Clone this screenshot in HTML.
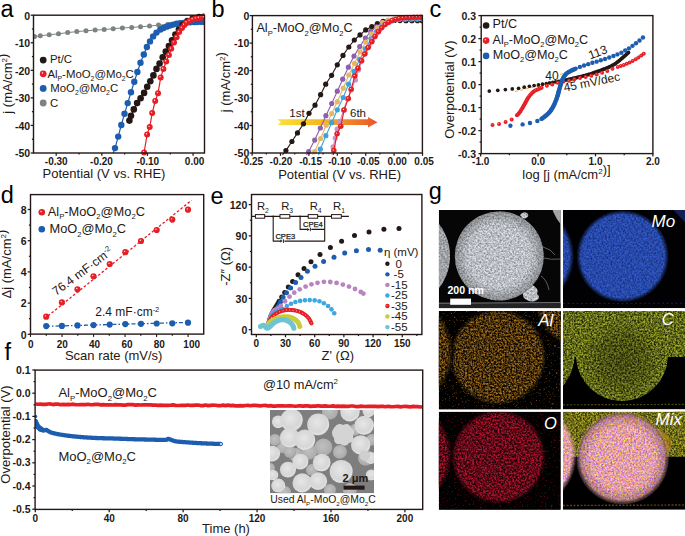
<!DOCTYPE html>
<html><head><meta charset="utf-8"><style>
html,body{margin:0;padding:0;background:#fff;}
body{width:685px;height:536px;overflow:hidden;}
svg{display:block;font-family:"Liberation Sans", sans-serif;}
</style></head><body>
<svg width="685" height="536" viewBox="0 0 685 536">
<g>
<clipPath id="cp1"><rect x="33.5" y="11.2" width="171" height="145.8"/></clipPath><g clip-path="url(#cp1)">
<polyline points="34.5,36.6 40.3,35.8 49.2,34.8 58.5,33.8 67.7,32.6 76.8,31.6 86,30.8 95.1,30.1 104.2,29.6 113.2,28.7 122.4,27.9 131.7,27.5 140.5,26.7 149.5,26.1 158.5,25.1 167.6,24.4 176.7,23.8 185.8,23.2 194.9,22.8 203.5,22.4" fill="none" stroke="#7d8383" stroke-width="1" stroke-linejoin="round"/>
<circle cx="34.5" cy="36.6" r="2.5" fill="#7d8383"/>
<circle cx="40.3" cy="35.8" r="2.5" fill="#7d8383"/>
<circle cx="49.2" cy="34.8" r="2.5" fill="#7d8383"/>
<circle cx="58.5" cy="33.8" r="2.5" fill="#7d8383"/>
<circle cx="67.7" cy="32.6" r="2.5" fill="#7d8383"/>
<circle cx="76.8" cy="31.6" r="2.5" fill="#7d8383"/>
<circle cx="86" cy="30.8" r="2.5" fill="#7d8383"/>
<circle cx="95.1" cy="30.1" r="2.5" fill="#7d8383"/>
<circle cx="104.2" cy="29.6" r="2.5" fill="#7d8383"/>
<circle cx="113.2" cy="28.7" r="2.5" fill="#7d8383"/>
<circle cx="122.4" cy="27.9" r="2.5" fill="#7d8383"/>
<circle cx="131.7" cy="27.5" r="2.5" fill="#7d8383"/>
<circle cx="140.5" cy="26.7" r="2.5" fill="#7d8383"/>
<circle cx="149.5" cy="26.1" r="2.5" fill="#7d8383"/>
<circle cx="158.5" cy="25.1" r="2.5" fill="#7d8383"/>
<circle cx="167.6" cy="24.4" r="2.5" fill="#7d8383"/>
<circle cx="176.7" cy="23.8" r="2.5" fill="#7d8383"/>
<circle cx="185.8" cy="23.2" r="2.5" fill="#7d8383"/>
<circle cx="194.9" cy="22.8" r="2.5" fill="#7d8383"/>
<circle cx="203.5" cy="22.4" r="2.5" fill="#7d8383"/>
<polyline points="113.3,153 115,148.1 118.2,136.6 121.3,125 124.5,113.8 127.7,103.1 131,92.3 134.3,81.7 137.4,72 140.5,62.7 143.8,54.5 146.9,47 150,41.4 153.1,36.4 156.5,32.6 160.4,29.5 165,27.2 171.2,25.1 177.4,23.6 186.7,22.5 196,22 204,21.7" fill="none" stroke="#1d5db0" stroke-width="1.2" stroke-linejoin="round"/>
<circle cx="115" cy="148.1" r="3.2" fill="#1d5db0"/>
<circle cx="118.2" cy="136.6" r="3.2" fill="#1d5db0"/>
<circle cx="121.3" cy="125" r="3.2" fill="#1d5db0"/>
<circle cx="124.5" cy="113.8" r="3.2" fill="#1d5db0"/>
<circle cx="127.7" cy="103.1" r="3.2" fill="#1d5db0"/>
<circle cx="131" cy="92.3" r="3.2" fill="#1d5db0"/>
<circle cx="134.3" cy="81.7" r="3.2" fill="#1d5db0"/>
<circle cx="137.4" cy="72" r="3.2" fill="#1d5db0"/>
<circle cx="140.5" cy="62.7" r="3.2" fill="#1d5db0"/>
<circle cx="143.8" cy="54.5" r="3.2" fill="#1d5db0"/>
<circle cx="146.9" cy="47" r="3.2" fill="#1d5db0"/>
<circle cx="150" cy="41.4" r="3.2" fill="#1d5db0"/>
<circle cx="153.1" cy="36.4" r="3.2" fill="#1d5db0"/>
<circle cx="156.5" cy="32.6" r="3.2" fill="#1d5db0"/>
<circle cx="160.4" cy="29.5" r="3.2" fill="#1d5db0"/>
<circle cx="163.48" cy="27.96" r="3.2" fill="#1d5db0"/>
<circle cx="166.65" cy="26.64" r="3.2" fill="#1d5db0"/>
<circle cx="169.91" cy="25.54" r="3.2" fill="#1d5db0"/>
<circle cx="173.22" cy="24.61" r="3.2" fill="#1d5db0"/>
<circle cx="176.57" cy="23.8" r="3.2" fill="#1d5db0"/>
<circle cx="179.97" cy="23.3" r="3.2" fill="#1d5db0"/>
<circle cx="183.39" cy="22.89" r="3.2" fill="#1d5db0"/>
<circle cx="186.81" cy="22.49" r="3.2" fill="#1d5db0"/>
<circle cx="190.24" cy="22.31" r="3.2" fill="#1d5db0"/>
<circle cx="193.68" cy="22.12" r="3.2" fill="#1d5db0"/>
<circle cx="197.12" cy="21.96" r="3.2" fill="#1d5db0"/>
<circle cx="200.56" cy="21.83" r="3.2" fill="#1d5db0"/>
<circle cx="204" cy="21.7" r="3.2" fill="#1d5db0"/>
<polyline points="129.4,120.6 131,115.7 133.8,109.4 137.1,103.1 140.6,98.2 144.1,92.9 147.2,86.7 150.3,81.3 153.4,75.4 156.5,68.9 159.6,63.5 162.7,57.3 165.8,51.6 168.9,46 172,40.3 175.4,34.6 178.9,29.5 182.8,24.8 187.4,21 192.8,18.3 199,17.1 203.7,16.8" fill="none" stroke="#231815" stroke-width="1.2" stroke-linejoin="round"/>
<circle cx="129.4" cy="120.6" r="3.3" fill="#231815"/>
<circle cx="131" cy="115.7" r="3.3" fill="#231815"/>
<circle cx="133.8" cy="109.4" r="3.3" fill="#231815"/>
<circle cx="137.1" cy="103.1" r="3.3" fill="#231815"/>
<circle cx="140.6" cy="98.2" r="3.3" fill="#231815"/>
<circle cx="144.1" cy="92.9" r="3.3" fill="#231815"/>
<circle cx="147.2" cy="86.7" r="3.3" fill="#231815"/>
<circle cx="150.3" cy="81.3" r="3.3" fill="#231815"/>
<circle cx="153.4" cy="75.4" r="3.3" fill="#231815"/>
<circle cx="156.5" cy="68.9" r="3.3" fill="#231815"/>
<circle cx="159.6" cy="63.5" r="3.3" fill="#231815"/>
<circle cx="162.7" cy="57.3" r="3.3" fill="#231815"/>
<circle cx="165.8" cy="51.6" r="3.3" fill="#231815"/>
<circle cx="168.9" cy="46" r="3.3" fill="#231815"/>
<circle cx="172" cy="40.3" r="3.3" fill="#231815"/>
<circle cx="175.4" cy="34.6" r="3.3" fill="#231815"/>
<circle cx="178.9" cy="29.5" r="3.3" fill="#231815"/>
<circle cx="182.8" cy="24.8" r="3.3" fill="#231815"/>
<circle cx="187.4" cy="21" r="3.3" fill="#231815"/>
<circle cx="192.8" cy="18.3" r="3.3" fill="#231815"/>
<circle cx="199" cy="17.1" r="3.3" fill="#231815"/>
<circle cx="203.7" cy="16.8" r="3.3" fill="#231815"/>
<polyline points="143.8,153.5 144.1,152.4 147.1,134.5 149.7,127.1 152.2,113.1 155.2,101 158,93.3 160.7,77.4 163.4,69 166.2,61.5 168.9,55 171.2,48.8 174,42.6 176.6,37.2 179.2,32.1 182,27.9 184.3,25 186.7,22.5 189.7,20.8 192.8,19.4 195.9,18.6 199,17.9 202,17.5 204,17.4" fill="none" stroke="#e61f26" stroke-width="1.2" stroke-linejoin="round"/>
<circle cx="144.1" cy="152.4" r="3" fill="#e61f26"/>
<circle cx="143.44" cy="151.65" r="0.66" fill="#fff0f0"/>
<circle cx="147.1" cy="134.5" r="3" fill="#e61f26"/>
<circle cx="146.44" cy="133.75" r="0.66" fill="#fff0f0"/>
<circle cx="149.7" cy="127.1" r="3" fill="#e61f26"/>
<circle cx="149.04" cy="126.35" r="0.66" fill="#fff0f0"/>
<circle cx="152.2" cy="113.1" r="3" fill="#e61f26"/>
<circle cx="151.54" cy="112.35" r="0.66" fill="#fff0f0"/>
<circle cx="155.2" cy="101" r="3" fill="#e61f26"/>
<circle cx="154.54" cy="100.25" r="0.66" fill="#fff0f0"/>
<circle cx="158" cy="93.3" r="3" fill="#e61f26"/>
<circle cx="157.34" cy="92.55" r="0.66" fill="#fff0f0"/>
<circle cx="160.7" cy="77.4" r="3" fill="#e61f26"/>
<circle cx="160.04" cy="76.65" r="0.66" fill="#fff0f0"/>
<circle cx="163.4" cy="69" r="3" fill="#e61f26"/>
<circle cx="162.74" cy="68.25" r="0.66" fill="#fff0f0"/>
<circle cx="166.2" cy="61.5" r="3" fill="#e61f26"/>
<circle cx="165.54" cy="60.75" r="0.66" fill="#fff0f0"/>
<circle cx="168.9" cy="55" r="3" fill="#e61f26"/>
<circle cx="168.24" cy="54.25" r="0.66" fill="#fff0f0"/>
<circle cx="171.2" cy="48.8" r="3" fill="#e61f26"/>
<circle cx="170.54" cy="48.05" r="0.66" fill="#fff0f0"/>
<circle cx="174" cy="42.6" r="3" fill="#e61f26"/>
<circle cx="173.34" cy="41.85" r="0.66" fill="#fff0f0"/>
<circle cx="176.6" cy="37.2" r="3" fill="#e61f26"/>
<circle cx="175.94" cy="36.45" r="0.66" fill="#fff0f0"/>
<circle cx="179.2" cy="32.1" r="3" fill="#e61f26"/>
<circle cx="178.54" cy="31.35" r="0.66" fill="#fff0f0"/>
<circle cx="182" cy="27.9" r="3" fill="#e61f26"/>
<circle cx="181.34" cy="27.15" r="0.66" fill="#fff0f0"/>
<circle cx="184.3" cy="25" r="3" fill="#e61f26"/>
<circle cx="183.64" cy="24.25" r="0.66" fill="#fff0f0"/>
<circle cx="186.7" cy="22.5" r="3" fill="#e61f26"/>
<circle cx="186.04" cy="21.75" r="0.66" fill="#fff0f0"/>
<circle cx="189.7" cy="20.8" r="3" fill="#e61f26"/>
<circle cx="189.04" cy="20.05" r="0.66" fill="#fff0f0"/>
<circle cx="192.8" cy="19.4" r="3" fill="#e61f26"/>
<circle cx="192.14" cy="18.65" r="0.66" fill="#fff0f0"/>
<circle cx="195.9" cy="18.6" r="3" fill="#e61f26"/>
<circle cx="195.24" cy="17.85" r="0.66" fill="#fff0f0"/>
<circle cx="199" cy="17.9" r="3" fill="#e61f26"/>
<circle cx="198.34" cy="17.15" r="0.66" fill="#fff0f0"/>
<circle cx="202" cy="17.5" r="3" fill="#e61f26"/>
<circle cx="201.34" cy="16.75" r="0.66" fill="#fff0f0"/>
<circle cx="204" cy="17.4" r="3" fill="#e61f26"/>
<circle cx="203.34" cy="16.65" r="0.66" fill="#fff0f0"/>
</g>
<rect x="33.5" y="15.2" width="171" height="137.8" fill="none" stroke="#231815" stroke-width="1.4"/>
<line x1="33.5" y1="15.2" x2="30.7" y2="15.2" stroke="#231815" stroke-width="1.25"/>
<text x="30.2" y="19.5" font-size="10.5" font-weight="bold" text-anchor="end" fill="#231815">0</text>
<line x1="33.5" y1="42.76" x2="30.7" y2="42.76" stroke="#231815" stroke-width="1.25"/>
<text x="30.2" y="47.06" font-size="10.5" font-weight="bold" text-anchor="end" fill="#231815">-10</text>
<line x1="33.5" y1="70.32" x2="30.7" y2="70.32" stroke="#231815" stroke-width="1.25"/>
<text x="30.2" y="74.62" font-size="10.5" font-weight="bold" text-anchor="end" fill="#231815">-20</text>
<line x1="33.5" y1="97.88" x2="30.7" y2="97.88" stroke="#231815" stroke-width="1.25"/>
<text x="30.2" y="102.18" font-size="10.5" font-weight="bold" text-anchor="end" fill="#231815">-30</text>
<line x1="33.5" y1="125.44" x2="30.7" y2="125.44" stroke="#231815" stroke-width="1.25"/>
<text x="30.2" y="129.74" font-size="10.5" font-weight="bold" text-anchor="end" fill="#231815">-40</text>
<line x1="33.5" y1="153" x2="30.7" y2="153" stroke="#231815" stroke-width="1.25"/>
<text x="30.2" y="157.3" font-size="10.5" font-weight="bold" text-anchor="end" fill="#231815">-50</text>
<line x1="33.5" y1="28.98" x2="31.9" y2="28.98" stroke="#231815" stroke-width="1.25"/>
<line x1="33.5" y1="56.54" x2="31.9" y2="56.54" stroke="#231815" stroke-width="1.25"/>
<line x1="33.5" y1="84.1" x2="31.9" y2="84.1" stroke="#231815" stroke-width="1.25"/>
<line x1="33.5" y1="111.66" x2="31.9" y2="111.66" stroke="#231815" stroke-width="1.25"/>
<line x1="33.5" y1="139.22" x2="31.9" y2="139.22" stroke="#231815" stroke-width="1.25"/>
<line x1="56.2" y1="153" x2="56.2" y2="155.8" stroke="#231815" stroke-width="1.25"/>
<line x1="101.82" y1="153" x2="101.82" y2="155.8" stroke="#231815" stroke-width="1.25"/>
<line x1="147.44" y1="153" x2="147.44" y2="155.8" stroke="#231815" stroke-width="1.25"/>
<line x1="193.06" y1="153" x2="193.06" y2="155.8" stroke="#231815" stroke-width="1.25"/>
<text x="56.2" y="165" font-size="10" font-weight="bold" text-anchor="middle" fill="#231815">-0.30</text>
<text x="101.5" y="165" font-size="10" font-weight="bold" text-anchor="middle" fill="#231815">-0.20</text>
<text x="147.8" y="165" font-size="10" font-weight="bold" text-anchor="middle" fill="#231815">-0.10</text>
<text x="194.6" y="165" font-size="10" font-weight="bold" text-anchor="middle" fill="#231815">0.00</text>
<line x1="79.01" y1="153" x2="79.01" y2="154.6" stroke="#231815" stroke-width="1.25"/>
<line x1="124.63" y1="153" x2="124.63" y2="154.6" stroke="#231815" stroke-width="1.25"/>
<line x1="170.25" y1="153" x2="170.25" y2="154.6" stroke="#231815" stroke-width="1.25"/>
<circle cx="43.2" cy="60.1" r="3.4" fill="#231815"/>
<circle cx="43.2" cy="73.8" r="3.4" fill="#e61f26"/>
<circle cx="42.45" cy="72.95" r="0.75" fill="#fff0f0"/>
<circle cx="43.2" cy="88.4" r="3.4" fill="#1d5db0"/>
<circle cx="43.2" cy="103" r="3.4" fill="#7d8383"/>
<text x="49.9" y="63.1" font-size="11.4" text-anchor="start" fill="#231815">Pt/C</text>
<text x="47.4" y="77.5" font-size="11.4" text-anchor="start" fill="#231815">Al<tspan dy="3.31" font-size="6.84">P</tspan><tspan dy="-3.31">-MoO<tspan dy="3.31" font-size="6.84">2</tspan><tspan dy="-3.31">@Mo<tspan dy="3.31" font-size="6.84">2</tspan><tspan dy="-3.31">C</tspan></tspan></tspan></text>
<text x="50.2" y="92" font-size="11.4" text-anchor="start" fill="#231815">MoO<tspan dy="3.31" font-size="6.84">2</tspan><tspan dy="-3.31">@Mo<tspan dy="3.31" font-size="6.84">2</tspan><tspan dy="-3.31">C</tspan></tspan></text>
<text x="49.9" y="106.5" font-size="11.4" text-anchor="start" fill="#231815">C</text>
<text x="104" y="177.7" font-size="13" text-anchor="middle" fill="#231815">Potential (V vs. RHE)</text>
<text x="11.6" y="83.6" font-size="13" text-anchor="middle" fill="#231815" transform="rotate(-90 11.6 83.6)">j (mA/cm<tspan dy="-4.94" font-size="8.06">2</tspan><tspan dy="4.94"></tspan>)</text>
<text x="0.5" y="16.7" font-size="23.5" text-anchor="start" fill="#000">a</text>
</g>
<defs><linearGradient id="arr" x1="0" x2="1" y1="0" y2="0"><stop offset="0" stop-color="#fbe23a"/><stop offset="0.45" stop-color="#f4b51f"/><stop offset="1" stop-color="#e8552c"/></linearGradient></defs>
<path d="M277.5,119.3 L368,119.3 L368,117 L377.5,122.2 L368,127.4 L368,125.1 L277.5,125.1 L281,122.2 Z" fill="url(#arr)"/>
<text x="289.3" y="117" font-size="11.5" text-anchor="start" fill="#231815">1st</text>
<text x="350" y="117" font-size="11.5" text-anchor="start" fill="#231815">6th</text>
<clipPath id="cp2"><rect x="252.4" y="11.6" width="170" height="145.4"/></clipPath><g clip-path="url(#cp2)">
<polyline points="282.5,155 285.9,150.6 291.9,141.5 297.5,132.9 303.5,123.8 309,113.3 315,105.2 320.6,94.7 325.7,84.2 331.6,75.3 337.3,64.8 343,55.4 348.8,47 354.3,40 360,34.9 365.7,29.9 371.8,26.5 377.4,23.6 383.1,21.4 388.8,20.6 394.5,20.5 400,20.6 406,20.7 411.9,20.7 417.5,20.7 422.3,20.7" fill="none" stroke="#231815" stroke-width="1.1" stroke-linejoin="round"/>
<circle cx="285.9" cy="150.6" r="2.6" fill="#231815"/>
<circle cx="291.9" cy="141.5" r="2.6" fill="#231815"/>
<circle cx="297.5" cy="132.9" r="2.6" fill="#231815"/>
<circle cx="303.5" cy="123.8" r="2.6" fill="#231815"/>
<circle cx="309" cy="113.3" r="2.6" fill="#231815"/>
<circle cx="315" cy="105.2" r="2.6" fill="#231815"/>
<circle cx="320.6" cy="94.7" r="2.6" fill="#231815"/>
<circle cx="325.7" cy="84.2" r="2.6" fill="#231815"/>
<circle cx="331.6" cy="75.3" r="2.6" fill="#231815"/>
<circle cx="337.3" cy="64.8" r="2.6" fill="#231815"/>
<circle cx="343" cy="55.4" r="2.6" fill="#231815"/>
<circle cx="348.8" cy="47" r="2.6" fill="#231815"/>
<circle cx="354.3" cy="40" r="2.6" fill="#231815"/>
<circle cx="360" cy="34.9" r="2.6" fill="#231815"/>
<circle cx="365.7" cy="29.9" r="2.6" fill="#231815"/>
<circle cx="371.8" cy="26.5" r="2.6" fill="#231815"/>
<circle cx="377.4" cy="23.6" r="2.6" fill="#231815"/>
<circle cx="383.1" cy="21.4" r="2.6" fill="#231815"/>
<circle cx="388.8" cy="20.6" r="2.6" fill="#231815"/>
<circle cx="394.5" cy="20.5" r="2.6" fill="#231815"/>
<circle cx="400" cy="20.6" r="2.6" fill="#231815"/>
<circle cx="406" cy="20.7" r="2.6" fill="#231815"/>
<circle cx="411.9" cy="20.7" r="2.6" fill="#231815"/>
<circle cx="417.5" cy="20.7" r="2.6" fill="#231815"/>
<circle cx="422.3" cy="20.7" r="2.6" fill="#231815"/>
<polyline points="306.5,155 308.7,151.6 314.7,140.1 320.3,128 325.9,115.7 331.7,103.5 337.3,91.2 342.7,79.2 348.4,67.2 354,56.1 359.7,46.6 365.4,38.1 370.8,31.4 376.5,26.8 382.1,22.8 387.8,20.6 393.5,19.5 399,19.2 405,19.1 411,19.1 417,19.1 422.5,19.1" fill="none" stroke="#8f5fae" stroke-width="1.1" stroke-linejoin="round"/>
<circle cx="308.7" cy="151.6" r="2.6" fill="#8f5fae"/>
<circle cx="314.7" cy="140.1" r="2.6" fill="#8f5fae"/>
<circle cx="320.3" cy="128" r="2.6" fill="#8f5fae"/>
<circle cx="325.9" cy="115.7" r="2.6" fill="#8f5fae"/>
<circle cx="331.7" cy="103.5" r="2.6" fill="#8f5fae"/>
<circle cx="337.3" cy="91.2" r="2.6" fill="#8f5fae"/>
<circle cx="342.7" cy="79.2" r="2.6" fill="#8f5fae"/>
<circle cx="348.4" cy="67.2" r="2.6" fill="#8f5fae"/>
<circle cx="354" cy="56.1" r="2.6" fill="#8f5fae"/>
<circle cx="359.7" cy="46.6" r="2.6" fill="#8f5fae"/>
<circle cx="365.4" cy="38.1" r="2.6" fill="#8f5fae"/>
<circle cx="370.8" cy="31.4" r="2.6" fill="#8f5fae"/>
<circle cx="376.5" cy="26.8" r="2.6" fill="#8f5fae"/>
<circle cx="382.1" cy="22.8" r="2.6" fill="#8f5fae"/>
<circle cx="387.8" cy="20.6" r="2.6" fill="#8f5fae"/>
<circle cx="393.5" cy="19.5" r="2.6" fill="#8f5fae"/>
<circle cx="399" cy="19.2" r="2.6" fill="#8f5fae"/>
<circle cx="405" cy="19.1" r="2.6" fill="#8f5fae"/>
<circle cx="411" cy="19.1" r="2.6" fill="#8f5fae"/>
<circle cx="417" cy="19.1" r="2.6" fill="#8f5fae"/>
<circle cx="422.5" cy="19.1" r="2.6" fill="#8f5fae"/>
<polyline points="312.5,155 314.7,151.6 320.6,138.5 326.2,125.2 331.7,113.6 337.3,101.7 343.2,88.2 348.8,75 354.5,63.4 360.1,52 365.8,42.1 371.5,33.9 377.2,27.5 382.8,22.5 388.5,20.2 394,19.2 400,18.8 406,18.7 412,18.7 418,18.7 422.5,18.7" fill="none" stroke="#e2b863" stroke-width="1.1" stroke-linejoin="round"/>
<circle cx="314.7" cy="151.6" r="2.6" fill="#e2b863"/>
<circle cx="320.6" cy="138.5" r="2.6" fill="#e2b863"/>
<circle cx="326.2" cy="125.2" r="2.6" fill="#e2b863"/>
<circle cx="331.7" cy="113.6" r="2.6" fill="#e2b863"/>
<circle cx="337.3" cy="101.7" r="2.6" fill="#e2b863"/>
<circle cx="343.2" cy="88.2" r="2.6" fill="#e2b863"/>
<circle cx="348.8" cy="75" r="2.6" fill="#e2b863"/>
<circle cx="354.5" cy="63.4" r="2.6" fill="#e2b863"/>
<circle cx="360.1" cy="52" r="2.6" fill="#e2b863"/>
<circle cx="365.8" cy="42.1" r="2.6" fill="#e2b863"/>
<circle cx="371.5" cy="33.9" r="2.6" fill="#e2b863"/>
<circle cx="377.2" cy="27.5" r="2.6" fill="#e2b863"/>
<circle cx="382.8" cy="22.5" r="2.6" fill="#e2b863"/>
<circle cx="388.5" cy="20.2" r="2.6" fill="#e2b863"/>
<circle cx="394" cy="19.2" r="2.6" fill="#e2b863"/>
<circle cx="400" cy="18.8" r="2.6" fill="#e2b863"/>
<circle cx="406" cy="18.7" r="2.6" fill="#e2b863"/>
<circle cx="412" cy="18.7" r="2.6" fill="#e2b863"/>
<circle cx="418" cy="18.7" r="2.6" fill="#e2b863"/>
<circle cx="422.5" cy="18.7" r="2.6" fill="#e2b863"/>
<polyline points="318.5,155 320.3,149.2 325.9,135.7 331.7,122.7 337.3,109.8 343.2,97.5 348.6,84.2 354,71.4 359.7,59.4 365.4,48.8 371.1,38.8 376.7,31.7 382.4,26 388,22.3 393.6,20.3 399.2,19.3 405,18.9 411,18.8 417,18.8 422.5,18.8" fill="none" stroke="#3aa3de" stroke-width="1.1" stroke-linejoin="round"/>
<circle cx="320.3" cy="149.2" r="2.6" fill="#3aa3de"/>
<circle cx="325.9" cy="135.7" r="2.6" fill="#3aa3de"/>
<circle cx="331.7" cy="122.7" r="2.6" fill="#3aa3de"/>
<circle cx="337.3" cy="109.8" r="2.6" fill="#3aa3de"/>
<circle cx="343.2" cy="97.5" r="2.6" fill="#3aa3de"/>
<circle cx="348.6" cy="84.2" r="2.6" fill="#3aa3de"/>
<circle cx="354" cy="71.4" r="2.6" fill="#3aa3de"/>
<circle cx="359.7" cy="59.4" r="2.6" fill="#3aa3de"/>
<circle cx="365.4" cy="48.8" r="2.6" fill="#3aa3de"/>
<circle cx="371.1" cy="38.8" r="2.6" fill="#3aa3de"/>
<circle cx="376.7" cy="31.7" r="2.6" fill="#3aa3de"/>
<circle cx="382.4" cy="26" r="2.6" fill="#3aa3de"/>
<circle cx="388" cy="22.3" r="2.6" fill="#3aa3de"/>
<circle cx="393.6" cy="20.3" r="2.6" fill="#3aa3de"/>
<circle cx="399.2" cy="19.3" r="2.6" fill="#3aa3de"/>
<circle cx="405" cy="18.9" r="2.6" fill="#3aa3de"/>
<circle cx="411" cy="18.8" r="2.6" fill="#3aa3de"/>
<circle cx="417" cy="18.8" r="2.6" fill="#3aa3de"/>
<circle cx="422.5" cy="18.8" r="2.6" fill="#3aa3de"/>
<polyline points="332,155 333.1,146.9 335.2,138 337.1,129 340.1,121.3 343.5,110 347.5,99 351,90 355.5,80 358.5,70 362,61 365.5,53 369,46 372.5,40 376,34.5 379.5,30 383,26 387,23 391,21 395.5,19.5 400,18.5 406,18 412,17.8 418,17.7 422.5,17.7" fill="none" stroke="#c993c9" stroke-width="1.1" stroke-linejoin="round"/>
<circle cx="333.1" cy="146.9" r="2.6" fill="#c993c9"/>
<circle cx="335.2" cy="138" r="2.6" fill="#c993c9"/>
<circle cx="337.1" cy="129" r="2.6" fill="#c993c9"/>
<circle cx="340.1" cy="121.3" r="2.6" fill="#c993c9"/>
<circle cx="343.5" cy="110" r="2.6" fill="#c993c9"/>
<circle cx="347.5" cy="99" r="2.6" fill="#c993c9"/>
<circle cx="351" cy="90" r="2.6" fill="#c993c9"/>
<circle cx="355.5" cy="80" r="2.6" fill="#c993c9"/>
<circle cx="358.5" cy="70" r="2.6" fill="#c993c9"/>
<circle cx="362" cy="61" r="2.6" fill="#c993c9"/>
<circle cx="365.5" cy="53" r="2.6" fill="#c993c9"/>
<circle cx="369" cy="46" r="2.6" fill="#c993c9"/>
<circle cx="372.5" cy="40" r="2.6" fill="#c993c9"/>
<circle cx="376" cy="34.5" r="2.6" fill="#c993c9"/>
<circle cx="379.5" cy="30" r="2.6" fill="#c993c9"/>
<circle cx="383" cy="26" r="2.6" fill="#c993c9"/>
<circle cx="387" cy="23" r="2.6" fill="#c993c9"/>
<circle cx="391" cy="21" r="2.6" fill="#c993c9"/>
<circle cx="395.5" cy="19.5" r="2.6" fill="#c993c9"/>
<circle cx="400" cy="18.5" r="2.6" fill="#c993c9"/>
<circle cx="406" cy="18" r="2.6" fill="#c993c9"/>
<circle cx="412" cy="17.8" r="2.6" fill="#c993c9"/>
<circle cx="418" cy="17.7" r="2.6" fill="#c993c9"/>
<circle cx="422.5" cy="17.7" r="2.6" fill="#c993c9"/>
<polyline points="333.5,155 333.8,150.6 337.1,133.8 340.8,126.2 344.1,110.1 348.3,98.6 351.2,89.2 354.8,76.1 358,68.3 361.4,60.8 364.7,54 368.2,47.6 371.8,41.7 375,36.4 378.4,31.7 381.7,27.8 385.2,24.6 388.8,22.2 392.3,20.4 395.9,19.2 399.4,18.3 403,17.8 406.5,17.5 410,17.4 413.5,17.3 417,17.3 420.5,17.3 422.8,17.3" fill="none" stroke="#e61f26" stroke-width="1.2" stroke-linejoin="round"/>
<circle cx="333.8" cy="150.6" r="2.75" fill="#e61f26"/>
<circle cx="333.19" cy="149.91" r="0.6" fill="#fff0f0"/>
<circle cx="337.1" cy="133.8" r="2.75" fill="#e61f26"/>
<circle cx="336.5" cy="133.11" r="0.6" fill="#fff0f0"/>
<circle cx="340.8" cy="126.2" r="2.75" fill="#e61f26"/>
<circle cx="340.19" cy="125.51" r="0.6" fill="#fff0f0"/>
<circle cx="344.1" cy="110.1" r="2.75" fill="#e61f26"/>
<circle cx="343.5" cy="109.41" r="0.6" fill="#fff0f0"/>
<circle cx="348.3" cy="98.6" r="2.75" fill="#e61f26"/>
<circle cx="347.69" cy="97.91" r="0.6" fill="#fff0f0"/>
<circle cx="351.2" cy="89.2" r="2.75" fill="#e61f26"/>
<circle cx="350.59" cy="88.51" r="0.6" fill="#fff0f0"/>
<circle cx="354.8" cy="76.1" r="2.75" fill="#e61f26"/>
<circle cx="354.19" cy="75.41" r="0.6" fill="#fff0f0"/>
<circle cx="358" cy="68.3" r="2.75" fill="#e61f26"/>
<circle cx="357.39" cy="67.61" r="0.6" fill="#fff0f0"/>
<circle cx="361.4" cy="60.8" r="2.75" fill="#e61f26"/>
<circle cx="360.79" cy="60.11" r="0.6" fill="#fff0f0"/>
<circle cx="364.7" cy="54" r="2.75" fill="#e61f26"/>
<circle cx="364.09" cy="53.31" r="0.6" fill="#fff0f0"/>
<circle cx="368.2" cy="47.6" r="2.75" fill="#e61f26"/>
<circle cx="367.59" cy="46.91" r="0.6" fill="#fff0f0"/>
<circle cx="371.8" cy="41.7" r="2.75" fill="#e61f26"/>
<circle cx="371.19" cy="41.01" r="0.6" fill="#fff0f0"/>
<circle cx="375" cy="36.4" r="2.75" fill="#e61f26"/>
<circle cx="374.39" cy="35.71" r="0.6" fill="#fff0f0"/>
<circle cx="378.4" cy="31.7" r="2.75" fill="#e61f26"/>
<circle cx="377.79" cy="31.01" r="0.6" fill="#fff0f0"/>
<circle cx="381.7" cy="27.8" r="2.75" fill="#e61f26"/>
<circle cx="381.09" cy="27.11" r="0.6" fill="#fff0f0"/>
<circle cx="385.2" cy="24.6" r="2.75" fill="#e61f26"/>
<circle cx="384.59" cy="23.91" r="0.6" fill="#fff0f0"/>
<circle cx="388.8" cy="22.2" r="2.75" fill="#e61f26"/>
<circle cx="388.19" cy="21.51" r="0.6" fill="#fff0f0"/>
<circle cx="392.3" cy="20.4" r="2.75" fill="#e61f26"/>
<circle cx="391.69" cy="19.71" r="0.6" fill="#fff0f0"/>
<circle cx="395.9" cy="19.2" r="2.75" fill="#e61f26"/>
<circle cx="395.29" cy="18.51" r="0.6" fill="#fff0f0"/>
<circle cx="399.4" cy="18.3" r="2.75" fill="#e61f26"/>
<circle cx="398.79" cy="17.61" r="0.6" fill="#fff0f0"/>
<circle cx="403" cy="17.8" r="2.75" fill="#e61f26"/>
<circle cx="402.39" cy="17.11" r="0.6" fill="#fff0f0"/>
<circle cx="406.5" cy="17.5" r="2.75" fill="#e61f26"/>
<circle cx="405.89" cy="16.81" r="0.6" fill="#fff0f0"/>
<circle cx="410" cy="17.4" r="2.75" fill="#e61f26"/>
<circle cx="409.39" cy="16.71" r="0.6" fill="#fff0f0"/>
<circle cx="413.5" cy="17.3" r="2.75" fill="#e61f26"/>
<circle cx="412.89" cy="16.61" r="0.6" fill="#fff0f0"/>
<circle cx="417" cy="17.3" r="2.75" fill="#e61f26"/>
<circle cx="416.39" cy="16.61" r="0.6" fill="#fff0f0"/>
<circle cx="420.5" cy="17.3" r="2.75" fill="#e61f26"/>
<circle cx="419.89" cy="16.61" r="0.6" fill="#fff0f0"/>
<circle cx="422.8" cy="17.3" r="2.75" fill="#e61f26"/>
<circle cx="422.19" cy="16.61" r="0.6" fill="#fff0f0"/>
</g>
<rect x="252.4" y="15.6" width="170" height="137.4" fill="none" stroke="#231815" stroke-width="1.4"/>
<line x1="252.4" y1="15.6" x2="249.6" y2="15.6" stroke="#231815" stroke-width="1.25"/>
<text x="249.3" y="19.9" font-size="10.5" font-weight="bold" text-anchor="end" fill="#231815">0</text>
<line x1="252.4" y1="43.08" x2="249.6" y2="43.08" stroke="#231815" stroke-width="1.25"/>
<text x="249.3" y="47.38" font-size="10.5" font-weight="bold" text-anchor="end" fill="#231815">-10</text>
<line x1="252.4" y1="70.56" x2="249.6" y2="70.56" stroke="#231815" stroke-width="1.25"/>
<text x="249.3" y="74.86" font-size="10.5" font-weight="bold" text-anchor="end" fill="#231815">-20</text>
<line x1="252.4" y1="98.04" x2="249.6" y2="98.04" stroke="#231815" stroke-width="1.25"/>
<text x="249.3" y="102.34" font-size="10.5" font-weight="bold" text-anchor="end" fill="#231815">-30</text>
<line x1="252.4" y1="125.52" x2="249.6" y2="125.52" stroke="#231815" stroke-width="1.25"/>
<text x="249.3" y="129.82" font-size="10.5" font-weight="bold" text-anchor="end" fill="#231815">-40</text>
<line x1="252.4" y1="153" x2="249.6" y2="153" stroke="#231815" stroke-width="1.25"/>
<text x="249.3" y="157.3" font-size="10.5" font-weight="bold" text-anchor="end" fill="#231815">-50</text>
<line x1="252.4" y1="29.34" x2="250.8" y2="29.34" stroke="#231815" stroke-width="1.25"/>
<line x1="252.4" y1="56.82" x2="250.8" y2="56.82" stroke="#231815" stroke-width="1.25"/>
<line x1="252.4" y1="84.3" x2="250.8" y2="84.3" stroke="#231815" stroke-width="1.25"/>
<line x1="252.4" y1="111.78" x2="250.8" y2="111.78" stroke="#231815" stroke-width="1.25"/>
<line x1="252.4" y1="139.26" x2="250.8" y2="139.26" stroke="#231815" stroke-width="1.25"/>
<line x1="252.1" y1="153" x2="252.1" y2="155.8" stroke="#231815" stroke-width="1.25"/>
<line x1="280.5" y1="153" x2="280.5" y2="155.8" stroke="#231815" stroke-width="1.25"/>
<line x1="308.9" y1="153" x2="308.9" y2="155.8" stroke="#231815" stroke-width="1.25"/>
<line x1="337.3" y1="153" x2="337.3" y2="155.8" stroke="#231815" stroke-width="1.25"/>
<line x1="365.7" y1="153" x2="365.7" y2="155.8" stroke="#231815" stroke-width="1.25"/>
<line x1="394.1" y1="153" x2="394.1" y2="155.8" stroke="#231815" stroke-width="1.25"/>
<line x1="422.5" y1="153" x2="422.5" y2="155.8" stroke="#231815" stroke-width="1.25"/>
<text x="251.7" y="165.2" font-size="10" font-weight="bold" text-anchor="middle" fill="#231815">-0.25</text>
<text x="281" y="165.2" font-size="10" font-weight="bold" text-anchor="middle" fill="#231815">-0.20</text>
<text x="310.6" y="165.2" font-size="10" font-weight="bold" text-anchor="middle" fill="#231815">-0.15</text>
<text x="339.4" y="165.2" font-size="10" font-weight="bold" text-anchor="middle" fill="#231815">-0.10</text>
<text x="368.3" y="165.2" font-size="10" font-weight="bold" text-anchor="middle" fill="#231815">-0.05</text>
<text x="397.2" y="165.2" font-size="10" font-weight="bold" text-anchor="middle" fill="#231815">0.00</text>
<text x="424.1" y="165.2" font-size="10" font-weight="bold" text-anchor="middle" fill="#231815">0.05</text>
<line x1="266.3" y1="153" x2="266.3" y2="154.6" stroke="#231815" stroke-width="1.25"/>
<line x1="294.7" y1="153" x2="294.7" y2="154.6" stroke="#231815" stroke-width="1.25"/>
<line x1="323.1" y1="153" x2="323.1" y2="154.6" stroke="#231815" stroke-width="1.25"/>
<line x1="351.5" y1="153" x2="351.5" y2="154.6" stroke="#231815" stroke-width="1.25"/>
<line x1="379.9" y1="153" x2="379.9" y2="154.6" stroke="#231815" stroke-width="1.25"/>
<line x1="408.3" y1="153" x2="408.3" y2="154.6" stroke="#231815" stroke-width="1.25"/>
<text x="256.4" y="31.9" font-size="12.7" text-anchor="start" fill="#231815">Al<tspan dy="3.68" font-size="7.62">P</tspan><tspan dy="-3.68">-MoO<tspan dy="3.68" font-size="7.62">2</tspan><tspan dy="-3.68">@Mo<tspan dy="3.68" font-size="7.62">2</tspan><tspan dy="-3.68">C</tspan></tspan></tspan></text>
<text x="339.6" y="178.6" font-size="13" text-anchor="middle" fill="#231815">Potential (V vs. RHE)</text>
<text x="230.4" y="82.2" font-size="13" text-anchor="middle" fill="#231815" transform="rotate(-90 230.4 82.2)">j (mA/cm<tspan dy="-4.94" font-size="8.06">2</tspan><tspan dy="4.94"></tspan>)</text>
<text x="211.5" y="16.8" font-size="23.5" text-anchor="start" fill="#000">b</text>
<g>
<clipPath id="cp3"><rect x="481.2" y="15.6" width="171.7" height="138"/></clipPath><g clip-path="url(#cp3)">
<line x1="515" y1="91.5" x2="572" y2="78.2" stroke="#f5b041" stroke-width="1" stroke-dasharray="3,2.5"/>
<line x1="545" y1="86.5" x2="600" y2="73.5" stroke="#f5b041" stroke-width="1" stroke-dasharray="3,2.5"/>
<line x1="560" y1="74.5" x2="612" y2="56.5" stroke="#f5b041" stroke-width="1" stroke-dasharray="3,2.5"/>
<circle cx="489.3" cy="91.1" r="1.85" fill="#231815"/>
<circle cx="497.78" cy="90.36" r="1.85" fill="#231815"/>
<circle cx="505.36" cy="89.6" r="1.85" fill="#231815"/>
<circle cx="512.29" cy="88.92" r="1.85" fill="#231815"/>
<circle cx="518.55" cy="88.28" r="1.85" fill="#231815"/>
<circle cx="524.22" cy="87.16" r="1.85" fill="#231815"/>
<circle cx="529.38" cy="86.23" r="1.85" fill="#231815"/>
<circle cx="534.1" cy="85.5" r="1.85" fill="#231815"/>
<circle cx="538.49" cy="84.93" r="1.85" fill="#231815"/>
<circle cx="542.5" cy="84.2" r="1.85" fill="#231815"/>
<circle cx="546.29" cy="83.57" r="1.85" fill="#231815"/>
<circle cx="549.63" cy="82.97" r="1.85" fill="#231815"/>
<circle cx="552.75" cy="82.41" r="1.85" fill="#231815"/>
<circle cx="555.65" cy="81.89" r="1.85" fill="#231815"/>
<circle cx="558.3" cy="81.4" r="1.85" fill="#231815"/>
<circle cx="560.59" cy="80.98" r="1.85" fill="#231815"/>
<circle cx="562.82" cy="80.56" r="1.85" fill="#231815"/>
<circle cx="564.76" cy="80.19" r="1.85" fill="#231815"/>
<circle cx="566.64" cy="79.81" r="1.85" fill="#231815"/>
<circle cx="568.42" cy="79.45" r="1.85" fill="#231815"/>
<circle cx="570" cy="79.1" r="1.85" fill="#231815"/>
<circle cx="571.33" cy="78.8" r="1.85" fill="#231815"/>
<circle cx="572.84" cy="78.45" r="1.85" fill="#231815"/>
<circle cx="574.06" cy="78.16" r="1.85" fill="#231815"/>
<circle cx="575.34" cy="77.85" r="1.85" fill="#231815"/>
<circle cx="576.66" cy="77.53" r="1.85" fill="#231815"/>
<circle cx="578" cy="77.2" r="1.85" fill="#231815"/>
<circle cx="579.39" cy="76.85" r="1.85" fill="#231815"/>
<circle cx="580.85" cy="76.49" r="1.85" fill="#231815"/>
<circle cx="582.36" cy="76.12" r="1.85" fill="#231815"/>
<circle cx="583.9" cy="75.72" r="1.85" fill="#231815"/>
<circle cx="585.45" cy="75.32" r="1.85" fill="#231815"/>
<circle cx="586.99" cy="74.89" r="1.85" fill="#231815"/>
<circle cx="588.5" cy="74.45" r="1.85" fill="#231815"/>
<circle cx="590.03" cy="73.98" r="1.85" fill="#231815"/>
<circle cx="591.58" cy="73.48" r="1.85" fill="#231815"/>
<circle cx="593.12" cy="72.97" r="1.85" fill="#231815"/>
<circle cx="594.65" cy="72.46" r="1.85" fill="#231815"/>
<circle cx="596.13" cy="71.95" r="1.85" fill="#231815"/>
<circle cx="597.55" cy="71.46" r="1.85" fill="#231815"/>
<circle cx="598.88" cy="70.99" r="1.85" fill="#231815"/>
<circle cx="600.16" cy="70.54" r="1.85" fill="#231815"/>
<circle cx="601.38" cy="70.1" r="1.85" fill="#231815"/>
<circle cx="602.57" cy="69.66" r="1.85" fill="#231815"/>
<circle cx="603.72" cy="69.22" r="1.85" fill="#231815"/>
<circle cx="604.86" cy="68.77" r="1.85" fill="#231815"/>
<circle cx="606" cy="68.3" r="1.85" fill="#231815"/>
<circle cx="607.15" cy="67.81" r="1.85" fill="#231815"/>
<circle cx="608.29" cy="67.31" r="1.85" fill="#231815"/>
<circle cx="609.43" cy="66.79" r="1.85" fill="#231815"/>
<circle cx="610.53" cy="66.27" r="1.85" fill="#231815"/>
<circle cx="611.93" cy="65.58" r="1.85" fill="#231815"/>
<circle cx="613.2" cy="64.9" r="1.85" fill="#231815"/>
<circle cx="614.33" cy="64.23" r="1.85" fill="#231815"/>
<circle cx="615.35" cy="63.56" r="1.85" fill="#231815"/>
<circle cx="616.5" cy="62.73" r="1.85" fill="#231815"/>
<circle cx="617.58" cy="61.92" r="1.85" fill="#231815"/>
<circle cx="618.6" cy="61.14" r="1.85" fill="#231815"/>
<circle cx="619.68" cy="60.25" r="1.85" fill="#231815"/>
<circle cx="620.71" cy="59.37" r="1.85" fill="#231815"/>
<circle cx="621.79" cy="58.44" r="1.85" fill="#231815"/>
<circle cx="622.77" cy="57.59" r="1.85" fill="#231815"/>
<circle cx="623.78" cy="56.72" r="1.85" fill="#231815"/>
<circle cx="624.77" cy="55.85" r="1.85" fill="#231815"/>
<circle cx="625.68" cy="55.04" r="1.85" fill="#231815"/>
<circle cx="626.59" cy="54.2" r="1.85" fill="#231815"/>
<circle cx="627.62" cy="53.23" r="1.85" fill="#231815"/>
<circle cx="628.52" cy="52.38" r="1.85" fill="#231815"/>
<circle cx="492.5" cy="125.1" r="2" fill="#e61f26"/>
<circle cx="492.06" cy="124.6" r="0.44" fill="#fff0f0"/>
<circle cx="499.09" cy="123.94" r="2" fill="#e61f26"/>
<circle cx="498.65" cy="123.44" r="0.44" fill="#fff0f0"/>
<circle cx="505.56" cy="122.08" r="2" fill="#e61f26"/>
<circle cx="505.12" cy="121.58" r="0.44" fill="#fff0f0"/>
<circle cx="511.67" cy="119.4" r="2" fill="#e61f26"/>
<circle cx="511.23" cy="118.9" r="0.44" fill="#fff0f0"/>
<circle cx="516.95" cy="115.37" r="2" fill="#e61f26"/>
<circle cx="516.51" cy="114.87" r="0.44" fill="#fff0f0"/>
<circle cx="517.93" cy="114.41" r="2" fill="#e61f26"/>
<circle cx="517.49" cy="113.91" r="0.44" fill="#fff0f0"/>
<circle cx="518.85" cy="113.36" r="2" fill="#e61f26"/>
<circle cx="518.41" cy="112.86" r="0.44" fill="#fff0f0"/>
<circle cx="519.73" cy="112.16" r="2" fill="#e61f26"/>
<circle cx="519.29" cy="111.66" r="0.44" fill="#fff0f0"/>
<circle cx="520.59" cy="110.88" r="2" fill="#e61f26"/>
<circle cx="520.15" cy="110.38" r="0.44" fill="#fff0f0"/>
<circle cx="521.41" cy="109.56" r="2" fill="#e61f26"/>
<circle cx="520.97" cy="109.06" r="0.44" fill="#fff0f0"/>
<circle cx="522.21" cy="108.24" r="2" fill="#e61f26"/>
<circle cx="521.77" cy="107.74" r="0.44" fill="#fff0f0"/>
<circle cx="522.98" cy="106.97" r="2" fill="#e61f26"/>
<circle cx="522.54" cy="106.47" r="0.44" fill="#fff0f0"/>
<circle cx="523.7" cy="105.69" r="2" fill="#e61f26"/>
<circle cx="523.26" cy="105.19" r="0.44" fill="#fff0f0"/>
<circle cx="524.39" cy="104.41" r="2" fill="#e61f26"/>
<circle cx="523.95" cy="103.91" r="0.44" fill="#fff0f0"/>
<circle cx="525.07" cy="103.14" r="2" fill="#e61f26"/>
<circle cx="524.63" cy="102.64" r="0.44" fill="#fff0f0"/>
<circle cx="525.75" cy="101.9" r="2" fill="#e61f26"/>
<circle cx="525.31" cy="101.4" r="0.44" fill="#fff0f0"/>
<circle cx="526.45" cy="100.71" r="2" fill="#e61f26"/>
<circle cx="526.01" cy="100.21" r="0.44" fill="#fff0f0"/>
<circle cx="527.13" cy="99.52" r="2" fill="#e61f26"/>
<circle cx="526.69" cy="99.02" r="0.44" fill="#fff0f0"/>
<circle cx="527.81" cy="98.37" r="2" fill="#e61f26"/>
<circle cx="527.37" cy="97.87" r="0.44" fill="#fff0f0"/>
<circle cx="528.5" cy="97.26" r="2" fill="#e61f26"/>
<circle cx="528.06" cy="96.76" r="0.44" fill="#fff0f0"/>
<circle cx="529.41" cy="95.95" r="2" fill="#e61f26"/>
<circle cx="528.97" cy="95.45" r="0.44" fill="#fff0f0"/>
<circle cx="530.37" cy="94.75" r="2" fill="#e61f26"/>
<circle cx="529.93" cy="94.25" r="0.44" fill="#fff0f0"/>
<circle cx="531.36" cy="93.64" r="2" fill="#e61f26"/>
<circle cx="530.92" cy="93.14" r="0.44" fill="#fff0f0"/>
<circle cx="532.42" cy="92.61" r="2" fill="#e61f26"/>
<circle cx="531.98" cy="92.11" r="0.44" fill="#fff0f0"/>
<circle cx="533.56" cy="91.68" r="2" fill="#e61f26"/>
<circle cx="533.12" cy="91.18" r="0.44" fill="#fff0f0"/>
<circle cx="534.84" cy="90.84" r="2" fill="#e61f26"/>
<circle cx="534.4" cy="90.34" r="0.44" fill="#fff0f0"/>
<circle cx="536.26" cy="90.11" r="2" fill="#e61f26"/>
<circle cx="535.82" cy="89.61" r="0.44" fill="#fff0f0"/>
<circle cx="537.73" cy="89.44" r="2" fill="#e61f26"/>
<circle cx="537.29" cy="88.94" r="0.44" fill="#fff0f0"/>
<circle cx="539.13" cy="88.82" r="2" fill="#e61f26"/>
<circle cx="538.69" cy="88.32" r="0.44" fill="#fff0f0"/>
<circle cx="540.42" cy="88.22" r="2" fill="#e61f26"/>
<circle cx="539.98" cy="87.72" r="0.44" fill="#fff0f0"/>
<circle cx="541.65" cy="87.67" r="2" fill="#e61f26"/>
<circle cx="541.21" cy="87.17" r="0.44" fill="#fff0f0"/>
<circle cx="546.9" cy="85.81" r="2" fill="#e61f26"/>
<circle cx="546.46" cy="85.31" r="0.44" fill="#fff0f0"/>
<circle cx="552.24" cy="84.38" r="2" fill="#e61f26"/>
<circle cx="551.8" cy="83.88" r="0.44" fill="#fff0f0"/>
<circle cx="557.79" cy="82.85" r="2" fill="#e61f26"/>
<circle cx="557.35" cy="82.35" r="0.44" fill="#fff0f0"/>
<circle cx="563.42" cy="81.46" r="2" fill="#e61f26"/>
<circle cx="562.98" cy="80.96" r="0.44" fill="#fff0f0"/>
<circle cx="569.03" cy="80.63" r="2" fill="#e61f26"/>
<circle cx="568.59" cy="80.13" r="0.44" fill="#fff0f0"/>
<circle cx="574.38" cy="79.15" r="2" fill="#e61f26"/>
<circle cx="573.94" cy="78.65" r="0.44" fill="#fff0f0"/>
<circle cx="579.99" cy="78.1" r="2" fill="#e61f26"/>
<circle cx="579.55" cy="77.6" r="0.44" fill="#fff0f0"/>
<circle cx="585.64" cy="77.06" r="2" fill="#e61f26"/>
<circle cx="585.2" cy="76.56" r="0.44" fill="#fff0f0"/>
<circle cx="591.29" cy="75.83" r="2" fill="#e61f26"/>
<circle cx="590.85" cy="75.33" r="0.44" fill="#fff0f0"/>
<circle cx="596.7" cy="74.43" r="2" fill="#e61f26"/>
<circle cx="596.26" cy="73.93" r="0.44" fill="#fff0f0"/>
<circle cx="602.09" cy="72.84" r="2" fill="#e61f26"/>
<circle cx="601.65" cy="72.34" r="0.44" fill="#fff0f0"/>
<circle cx="607.31" cy="70.91" r="2" fill="#e61f26"/>
<circle cx="606.87" cy="70.41" r="0.44" fill="#fff0f0"/>
<circle cx="612.48" cy="68.82" r="2" fill="#e61f26"/>
<circle cx="612.04" cy="68.32" r="0.44" fill="#fff0f0"/>
<circle cx="617.77" cy="66.96" r="2" fill="#e61f26"/>
<circle cx="617.33" cy="66.46" r="0.44" fill="#fff0f0"/>
<circle cx="620.81" cy="65.99" r="2" fill="#e61f26"/>
<circle cx="620.37" cy="65.49" r="0.44" fill="#fff0f0"/>
<circle cx="623.84" cy="64.88" r="2" fill="#e61f26"/>
<circle cx="623.4" cy="64.38" r="0.44" fill="#fff0f0"/>
<circle cx="626.82" cy="63.67" r="2" fill="#e61f26"/>
<circle cx="626.38" cy="63.17" r="0.44" fill="#fff0f0"/>
<circle cx="629.62" cy="62.39" r="2" fill="#e61f26"/>
<circle cx="629.18" cy="61.89" r="0.44" fill="#fff0f0"/>
<circle cx="632.6" cy="60.93" r="2" fill="#e61f26"/>
<circle cx="632.16" cy="60.43" r="0.44" fill="#fff0f0"/>
<circle cx="635.6" cy="59.3" r="2" fill="#e61f26"/>
<circle cx="635.16" cy="58.8" r="0.44" fill="#fff0f0"/>
<circle cx="638.38" cy="57.55" r="2" fill="#e61f26"/>
<circle cx="637.94" cy="57.05" r="0.44" fill="#fff0f0"/>
<circle cx="641.24" cy="55.6" r="2" fill="#e61f26"/>
<circle cx="640.8" cy="55.1" r="0.44" fill="#fff0f0"/>
<circle cx="643.77" cy="53.86" r="2" fill="#e61f26"/>
<circle cx="643.33" cy="53.36" r="0.44" fill="#fff0f0"/>
<circle cx="510.4" cy="125.8" r="2.2" fill="#1d5db0"/>
<circle cx="522.6" cy="124.4" r="2.2" fill="#1d5db0"/>
<circle cx="529.98" cy="123.07" r="2.2" fill="#1d5db0"/>
<circle cx="537.36" cy="120.93" r="2.2" fill="#1d5db0"/>
<circle cx="541.47" cy="118.88" r="2.2" fill="#1d5db0"/>
<circle cx="542.38" cy="118.28" r="2.2" fill="#1d5db0"/>
<circle cx="543.35" cy="117.59" r="2.2" fill="#1d5db0"/>
<circle cx="544.39" cy="116.79" r="2.2" fill="#1d5db0"/>
<circle cx="545.24" cy="116.13" r="2.2" fill="#1d5db0"/>
<circle cx="546.12" cy="115.42" r="2.2" fill="#1d5db0"/>
<circle cx="547.01" cy="114.66" r="2.2" fill="#1d5db0"/>
<circle cx="547.87" cy="113.87" r="2.2" fill="#1d5db0"/>
<circle cx="548.69" cy="113.06" r="2.2" fill="#1d5db0"/>
<circle cx="549.44" cy="112.22" r="2.2" fill="#1d5db0"/>
<circle cx="550.14" cy="111.36" r="2.2" fill="#1d5db0"/>
<circle cx="550.8" cy="110.48" r="2.2" fill="#1d5db0"/>
<circle cx="551.43" cy="109.57" r="2.2" fill="#1d5db0"/>
<circle cx="552.04" cy="108.62" r="2.2" fill="#1d5db0"/>
<circle cx="552.63" cy="107.62" r="2.2" fill="#1d5db0"/>
<circle cx="553.21" cy="106.56" r="2.2" fill="#1d5db0"/>
<circle cx="553.78" cy="105.45" r="2.2" fill="#1d5db0"/>
<circle cx="554.34" cy="104.28" r="2.2" fill="#1d5db0"/>
<circle cx="554.88" cy="103.06" r="2.2" fill="#1d5db0"/>
<circle cx="555.41" cy="101.79" r="2.2" fill="#1d5db0"/>
<circle cx="555.92" cy="100.49" r="2.2" fill="#1d5db0"/>
<circle cx="556.42" cy="99.16" r="2.2" fill="#1d5db0"/>
<circle cx="556.9" cy="97.8" r="2.2" fill="#1d5db0"/>
<circle cx="557.36" cy="96.39" r="2.2" fill="#1d5db0"/>
<circle cx="557.65" cy="95.42" r="2.2" fill="#1d5db0"/>
<circle cx="557.93" cy="94.42" r="2.2" fill="#1d5db0"/>
<circle cx="558.21" cy="93.41" r="2.2" fill="#1d5db0"/>
<circle cx="558.48" cy="92.39" r="2.2" fill="#1d5db0"/>
<circle cx="558.75" cy="91.38" r="2.2" fill="#1d5db0"/>
<circle cx="559.02" cy="90.38" r="2.2" fill="#1d5db0"/>
<circle cx="559.29" cy="89.41" r="2.2" fill="#1d5db0"/>
<circle cx="559.7" cy="88" r="2.2" fill="#1d5db0"/>
<circle cx="560.11" cy="86.64" r="2.2" fill="#1d5db0"/>
<circle cx="560.52" cy="85.29" r="2.2" fill="#1d5db0"/>
<circle cx="560.92" cy="83.97" r="2.2" fill="#1d5db0"/>
<circle cx="561.33" cy="82.69" r="2.2" fill="#1d5db0"/>
<circle cx="561.75" cy="81.47" r="2.2" fill="#1d5db0"/>
<circle cx="562.19" cy="80.32" r="2.2" fill="#1d5db0"/>
<circle cx="562.66" cy="79.25" r="2.2" fill="#1d5db0"/>
<circle cx="563.12" cy="78.27" r="2.2" fill="#1d5db0"/>
<circle cx="563.59" cy="77.35" r="2.2" fill="#1d5db0"/>
<circle cx="564.24" cy="76.22" r="2.2" fill="#1d5db0"/>
<circle cx="564.96" cy="75.19" r="2.2" fill="#1d5db0"/>
<circle cx="565.78" cy="74.23" r="2.2" fill="#1d5db0"/>
<circle cx="566.7" cy="73.36" r="2.2" fill="#1d5db0"/>
<circle cx="567.71" cy="72.62" r="2.2" fill="#1d5db0"/>
<circle cx="568.8" cy="71.96" r="2.2" fill="#1d5db0"/>
<circle cx="569.98" cy="71.33" r="2.2" fill="#1d5db0"/>
<circle cx="570.93" cy="70.84" r="2.2" fill="#1d5db0"/>
<circle cx="571.95" cy="70.32" r="2.2" fill="#1d5db0"/>
<circle cx="573.11" cy="69.77" r="2.2" fill="#1d5db0"/>
<circle cx="574.37" cy="69.19" r="2.2" fill="#1d5db0"/>
<circle cx="575.69" cy="68.62" r="2.2" fill="#1d5db0"/>
<circle cx="579.9" cy="66.88" r="2.2" fill="#1d5db0"/>
<circle cx="584.01" cy="65.53" r="2.2" fill="#1d5db0"/>
<circle cx="588.21" cy="64.13" r="2.2" fill="#1d5db0"/>
<circle cx="592.41" cy="62.74" r="2.2" fill="#1d5db0"/>
<circle cx="596.61" cy="61.64" r="2.2" fill="#1d5db0"/>
<circle cx="600.81" cy="60.23" r="2.2" fill="#1d5db0"/>
<circle cx="605.01" cy="58.93" r="2.2" fill="#1d5db0"/>
<circle cx="609.21" cy="57.53" r="2.2" fill="#1d5db0"/>
<circle cx="613.41" cy="56.02" r="2.2" fill="#1d5db0"/>
<circle cx="617.4" cy="54.4" r="2.2" fill="#1d5db0"/>
<circle cx="621.39" cy="52.7" r="2.2" fill="#1d5db0"/>
<circle cx="625.17" cy="50.57" r="2.2" fill="#1d5db0"/>
<circle cx="628.95" cy="48.37" r="2.2" fill="#1d5db0"/>
<circle cx="632.52" cy="45.87" r="2.2" fill="#1d5db0"/>
<circle cx="636.01" cy="43.31" r="2.2" fill="#1d5db0"/>
<circle cx="639.52" cy="40.54" r="2.2" fill="#1d5db0"/>
<circle cx="642.96" cy="37.44" r="2.2" fill="#1d5db0"/>
</g>
<rect x="481.2" y="15.6" width="171.7" height="138" fill="none" stroke="#231815" stroke-width="1.4"/>
<line x1="481.2" y1="15.6" x2="478.4" y2="15.6" stroke="#231815" stroke-width="1.25"/>
<text x="476" y="19.9" font-size="10.5" font-weight="bold" text-anchor="end" fill="#231815">0.3</text>
<line x1="481.2" y1="38.6" x2="478.4" y2="38.6" stroke="#231815" stroke-width="1.25"/>
<text x="476" y="42.9" font-size="10.5" font-weight="bold" text-anchor="end" fill="#231815">0.2</text>
<line x1="481.2" y1="61.6" x2="478.4" y2="61.6" stroke="#231815" stroke-width="1.25"/>
<text x="476" y="65.9" font-size="10.5" font-weight="bold" text-anchor="end" fill="#231815">0.1</text>
<line x1="481.2" y1="84.6" x2="478.4" y2="84.6" stroke="#231815" stroke-width="1.25"/>
<text x="476" y="88.9" font-size="10.5" font-weight="bold" text-anchor="end" fill="#231815">0.0</text>
<line x1="481.2" y1="107.6" x2="478.4" y2="107.6" stroke="#231815" stroke-width="1.25"/>
<text x="476" y="111.9" font-size="10.5" font-weight="bold" text-anchor="end" fill="#231815">-0.1</text>
<line x1="481.2" y1="130.6" x2="478.4" y2="130.6" stroke="#231815" stroke-width="1.25"/>
<text x="476" y="134.9" font-size="10.5" font-weight="bold" text-anchor="end" fill="#231815">-0.2</text>
<line x1="481.2" y1="153.6" x2="478.4" y2="153.6" stroke="#231815" stroke-width="1.25"/>
<text x="476" y="157.9" font-size="10.5" font-weight="bold" text-anchor="end" fill="#231815">-0.3</text>
<line x1="481.2" y1="27.1" x2="479.6" y2="27.1" stroke="#231815" stroke-width="1.25"/>
<line x1="481.2" y1="50.1" x2="479.6" y2="50.1" stroke="#231815" stroke-width="1.25"/>
<line x1="481.2" y1="73.1" x2="479.6" y2="73.1" stroke="#231815" stroke-width="1.25"/>
<line x1="481.2" y1="96.1" x2="479.6" y2="96.1" stroke="#231815" stroke-width="1.25"/>
<line x1="481.2" y1="119.1" x2="479.6" y2="119.1" stroke="#231815" stroke-width="1.25"/>
<line x1="481.2" y1="142.1" x2="479.6" y2="142.1" stroke="#231815" stroke-width="1.25"/>
<line x1="480.7" y1="153.6" x2="480.7" y2="156.4" stroke="#231815" stroke-width="1.25"/>
<text x="480.7" y="165" font-size="10" font-weight="bold" text-anchor="middle" fill="#231815">-1.0</text>
<line x1="538.1" y1="153.6" x2="538.1" y2="156.4" stroke="#231815" stroke-width="1.25"/>
<text x="538.1" y="165" font-size="10" font-weight="bold" text-anchor="middle" fill="#231815">0.0</text>
<line x1="595.5" y1="153.6" x2="595.5" y2="156.4" stroke="#231815" stroke-width="1.25"/>
<text x="595.5" y="165" font-size="10" font-weight="bold" text-anchor="middle" fill="#231815">1.0</text>
<line x1="652.9" y1="153.6" x2="652.9" y2="156.4" stroke="#231815" stroke-width="1.25"/>
<text x="652.9" y="165" font-size="10" font-weight="bold" text-anchor="middle" fill="#231815">2.0</text>
<line x1="509.4" y1="153.6" x2="509.4" y2="155.2" stroke="#231815" stroke-width="1.25"/>
<line x1="566.8" y1="153.6" x2="566.8" y2="155.2" stroke="#231815" stroke-width="1.25"/>
<line x1="624.2" y1="153.6" x2="624.2" y2="155.2" stroke="#231815" stroke-width="1.25"/>
<circle cx="486.1" cy="25.5" r="3.3" fill="#231815"/>
<circle cx="486.1" cy="40.6" r="3.3" fill="#e61f26"/>
<circle cx="485.37" cy="39.77" r="0.73" fill="#fff0f0"/>
<circle cx="486.1" cy="55.9" r="3.3" fill="#1d5db0"/>
<text x="492.5" y="27.8" font-size="12.6" text-anchor="start" fill="#231815">Pt/C</text>
<text x="492.5" y="43.6" font-size="12.6" text-anchor="start" fill="#231815">Al<tspan dy="3.65" font-size="7.56">P</tspan><tspan dy="-3.65">-MoO<tspan dy="3.65" font-size="7.56">2</tspan><tspan dy="-3.65">@Mo<tspan dy="3.65" font-size="7.56">2</tspan><tspan dy="-3.65">C</tspan></tspan></tspan></text>
<text x="492.8" y="58.7" font-size="12.6" text-anchor="start" fill="#231815">MoO<tspan dy="3.65" font-size="7.56">2</tspan><tspan dy="-3.65">@Mo<tspan dy="3.65" font-size="7.56">2</tspan><tspan dy="-3.65">C</tspan></tspan></text>
<text x="545.3" y="79.8" font-size="12" text-anchor="start" fill="#231815">40</text>
<text x="590.3" y="59.5" font-size="12" text-anchor="start" fill="#231815" transform="rotate(-21 590.3 59.5)">113</text>
<text x="564.5" y="91.8" font-size="12" text-anchor="start" fill="#231815" transform="rotate(-11.5 564.5 91.8)">45 mV/dec</text>
<text x="566.5" y="179.2" font-size="13" text-anchor="middle" fill="#231815">log [j (mA/cm<tspan dy="-4.94" font-size="8.06">2</tspan><tspan dy="4.94"></tspan>)]</text>
<text x="454.1" y="89.6" font-size="13" text-anchor="middle" fill="#231815" transform="rotate(-90 454.1 89.6)">Overpotential (V)</text>
<text x="429.5" y="16.8" font-size="23.5" text-anchor="start" fill="#000">c</text>
</g>
<g>
<line x1="44.4" y1="318.8" x2="191.5" y2="200.3" stroke="#e61f26" stroke-width="1.3" stroke-dasharray="2.6,2"/>
<line x1="46" y1="326.3" x2="188" y2="322.4" stroke="#1d5db0" stroke-width="1.3" stroke-dasharray="4,2,1.5,2"/>
<circle cx="46.2" cy="326.1" r="3.1" fill="#1d5db0"/>
<circle cx="61.9" cy="325.9" r="3.1" fill="#1d5db0"/>
<circle cx="77.5" cy="325.4" r="3.1" fill="#1d5db0"/>
<circle cx="93.5" cy="325.1" r="3.1" fill="#1d5db0"/>
<circle cx="109.7" cy="324.6" r="3.1" fill="#1d5db0"/>
<circle cx="125.3" cy="324.1" r="3.1" fill="#1d5db0"/>
<circle cx="141" cy="323.8" r="3.1" fill="#1d5db0"/>
<circle cx="156.7" cy="323.5" r="3.1" fill="#1d5db0"/>
<circle cx="172.3" cy="323.3" r="3.1" fill="#1d5db0"/>
<circle cx="188" cy="322.7" r="3.1" fill="#1d5db0"/>
<circle cx="46.2" cy="316.7" r="3.1" fill="#e61f26"/>
<circle cx="45.52" cy="315.93" r="0.68" fill="#fff0f0"/>
<circle cx="61.9" cy="302.4" r="3.1" fill="#e61f26"/>
<circle cx="61.22" cy="301.62" r="0.68" fill="#fff0f0"/>
<circle cx="77.5" cy="289.3" r="3.1" fill="#e61f26"/>
<circle cx="76.82" cy="288.53" r="0.68" fill="#fff0f0"/>
<circle cx="93.5" cy="276.3" r="3.1" fill="#e61f26"/>
<circle cx="92.82" cy="275.53" r="0.68" fill="#fff0f0"/>
<circle cx="109.7" cy="264" r="3.1" fill="#e61f26"/>
<circle cx="109.02" cy="263.23" r="0.68" fill="#fff0f0"/>
<circle cx="125.3" cy="252.2" r="3.1" fill="#e61f26"/>
<circle cx="124.62" cy="251.42" r="0.68" fill="#fff0f0"/>
<circle cx="141" cy="241" r="3.1" fill="#e61f26"/>
<circle cx="140.32" cy="240.22" r="0.68" fill="#fff0f0"/>
<circle cx="156.7" cy="230" r="3.1" fill="#e61f26"/>
<circle cx="156.02" cy="229.22" r="0.68" fill="#fff0f0"/>
<circle cx="172.3" cy="219.6" r="3.1" fill="#e61f26"/>
<circle cx="171.62" cy="218.82" r="0.68" fill="#fff0f0"/>
<circle cx="188" cy="209.7" r="3.1" fill="#e61f26"/>
<circle cx="187.32" cy="208.92" r="0.68" fill="#fff0f0"/>
<rect x="30.5" y="194.6" width="173.2" height="139.5" fill="none" stroke="#231815" stroke-width="1.4"/>
<line x1="30.5" y1="334.3" x2="27.7" y2="334.3" stroke="#231815" stroke-width="1.25"/>
<text x="26.5" y="338.6" font-size="10.5" font-weight="bold" text-anchor="end" fill="#231815">0</text>
<line x1="30.5" y1="303.1" x2="27.7" y2="303.1" stroke="#231815" stroke-width="1.25"/>
<text x="26.5" y="307.4" font-size="10.5" font-weight="bold" text-anchor="end" fill="#231815">2</text>
<line x1="30.5" y1="271.9" x2="27.7" y2="271.9" stroke="#231815" stroke-width="1.25"/>
<text x="26.5" y="276.2" font-size="10.5" font-weight="bold" text-anchor="end" fill="#231815">4</text>
<line x1="30.5" y1="240.7" x2="27.7" y2="240.7" stroke="#231815" stroke-width="1.25"/>
<text x="26.5" y="245" font-size="10.5" font-weight="bold" text-anchor="end" fill="#231815">6</text>
<line x1="30.5" y1="209.5" x2="27.7" y2="209.5" stroke="#231815" stroke-width="1.25"/>
<text x="26.5" y="213.8" font-size="10.5" font-weight="bold" text-anchor="end" fill="#231815">8</text>
<line x1="30.5" y1="318.7" x2="28.9" y2="318.7" stroke="#231815" stroke-width="1.25"/>
<line x1="30.5" y1="287.5" x2="28.9" y2="287.5" stroke="#231815" stroke-width="1.25"/>
<line x1="30.5" y1="256.3" x2="28.9" y2="256.3" stroke="#231815" stroke-width="1.25"/>
<line x1="30.5" y1="225.1" x2="28.9" y2="225.1" stroke="#231815" stroke-width="1.25"/>
<line x1="30.5" y1="334.1" x2="30.5" y2="336.9" stroke="#231815" stroke-width="1.1"/>
<text x="30.7" y="348" font-size="10" font-weight="bold" text-anchor="middle" fill="#231815">0</text>
<line x1="62.02" y1="334.1" x2="62.02" y2="336.9" stroke="#231815" stroke-width="1.1"/>
<text x="62.3" y="348" font-size="10" font-weight="bold" text-anchor="middle" fill="#231815">20</text>
<line x1="93.54" y1="334.1" x2="93.54" y2="336.9" stroke="#231815" stroke-width="1.1"/>
<text x="94.6" y="348" font-size="10" font-weight="bold" text-anchor="middle" fill="#231815">40</text>
<line x1="125.06" y1="334.1" x2="125.06" y2="336.9" stroke="#231815" stroke-width="1.1"/>
<text x="127" y="348" font-size="10" font-weight="bold" text-anchor="middle" fill="#231815">60</text>
<line x1="156.58" y1="334.1" x2="156.58" y2="336.9" stroke="#231815" stroke-width="1.1"/>
<text x="159.3" y="348" font-size="10" font-weight="bold" text-anchor="middle" fill="#231815">80</text>
<line x1="188.1" y1="334.1" x2="188.1" y2="336.9" stroke="#231815" stroke-width="1.1"/>
<text x="191.7" y="348" font-size="10" font-weight="bold" text-anchor="middle" fill="#231815">100</text>
<line x1="46.26" y1="334.1" x2="46.26" y2="335.7" stroke="#231815" stroke-width="1.25"/>
<line x1="77.78" y1="334.1" x2="77.78" y2="335.7" stroke="#231815" stroke-width="1.25"/>
<line x1="109.3" y1="334.1" x2="109.3" y2="335.7" stroke="#231815" stroke-width="1.25"/>
<line x1="140.82" y1="334.1" x2="140.82" y2="335.7" stroke="#231815" stroke-width="1.25"/>
<line x1="172.34" y1="334.1" x2="172.34" y2="335.7" stroke="#231815" stroke-width="1.25"/>
<circle cx="41.8" cy="212.3" r="3.3" fill="#e61f26"/>
<circle cx="41.07" cy="211.48" r="0.73" fill="#fff0f0"/>
<circle cx="41.8" cy="229.3" r="3.3" fill="#1d5db0"/>
<text x="47.8" y="215.7" font-size="12.8" text-anchor="start" fill="#231815">Al<tspan dy="3.71" font-size="7.68">P</tspan><tspan dy="-3.71">-MoO<tspan dy="3.71" font-size="7.68">2</tspan><tspan dy="-3.71">@Mo<tspan dy="3.71" font-size="7.68">2</tspan><tspan dy="-3.71">C</tspan></tspan></tspan></text>
<text x="49.6" y="233.4" font-size="12.8" text-anchor="start" fill="#231815">MoO<tspan dy="3.71" font-size="7.68">2</tspan><tspan dy="-3.71">@Mo<tspan dy="3.71" font-size="7.68">2</tspan><tspan dy="-3.71">C</tspan></tspan></text>
<text x="56" y="296" font-size="12.2" text-anchor="start" fill="#231815" transform="rotate(-36.5 56 296)">76.4 mF·cm<tspan dy="-4.64" font-size="7.56">-2</tspan><tspan dy="4.64"></tspan></text>
<text x="95.3" y="316.2" font-size="12" text-anchor="start" fill="#231815">2.4 mF·cm<tspan dy="-4.56" font-size="7.44">-2</tspan><tspan dy="4.56"></tspan></text>
<text x="113.7" y="360" font-size="13" text-anchor="middle" fill="#231815">Scan rate (mV/s)</text>
<text x="10.8" y="264.1" font-size="13" text-anchor="middle" fill="#231815" transform="rotate(-90 10.8 264.1)">Δj (mA/cm<tspan dy="-4.94" font-size="8.06">2</tspan><tspan dy="4.94"></tspan>)</text>
<text x="0.8" y="203" font-size="23.5" text-anchor="start" fill="#000">d</text>
</g>
<g>
<clipPath id="cp4"><rect x="251.5" y="194.5" width="170.4" height="140"/></clipPath><g clip-path="url(#cp4)">
<circle cx="268.3" cy="323.9" r="2.2" fill="#231815"/>
<circle cx="268.79" cy="321.96" r="2.2" fill="#231815"/>
<circle cx="269.28" cy="320.03" r="2.2" fill="#231815"/>
<circle cx="269.85" cy="318.05" r="2.2" fill="#231815"/>
<circle cx="270.56" cy="316.05" r="2.2" fill="#231815"/>
<circle cx="271.36" cy="314.23" r="2.2" fill="#231815"/>
<circle cx="272.23" cy="312.46" r="2.2" fill="#231815"/>
<circle cx="273.16" cy="310.7" r="2.2" fill="#231815"/>
<circle cx="274.21" cy="308.88" r="2.2" fill="#231815"/>
<circle cx="275.31" cy="307.08" r="2.2" fill="#231815"/>
<circle cx="276.34" cy="305.45" r="2.2" fill="#231815"/>
<circle cx="277.45" cy="303.77" r="2.2" fill="#231815"/>
<circle cx="278.61" cy="302.12" r="2.2" fill="#231815"/>
<circle cx="279.2" cy="301.3" r="2.2" fill="#231815"/>
<circle cx="399" cy="228.4" r="2.5" fill="#231815"/>
<circle cx="383.9" cy="229.2" r="2.5" fill="#231815"/>
<circle cx="369" cy="232" r="2.5" fill="#231815"/>
<circle cx="354.5" cy="235.6" r="2.5" fill="#231815"/>
<circle cx="341.6" cy="241.2" r="2.5" fill="#231815"/>
<circle cx="330.4" cy="247.4" r="2.5" fill="#231815"/>
<circle cx="320" cy="254.4" r="2.5" fill="#231815"/>
<circle cx="311" cy="261.7" r="2.5" fill="#231815"/>
<circle cx="304" cy="268.4" r="2.5" fill="#231815"/>
<circle cx="298" cy="274.8" r="2.5" fill="#231815"/>
<circle cx="292.6" cy="281.5" r="2.5" fill="#231815"/>
<circle cx="288.3" cy="287" r="2.5" fill="#231815"/>
<circle cx="284.7" cy="292.4" r="2.5" fill="#231815"/>
<circle cx="281.7" cy="296.9" r="2.5" fill="#231815"/>
<circle cx="279.2" cy="301.3" r="2.5" fill="#231815"/>
<circle cx="268.3" cy="323.9" r="2.2" fill="#1d5db0"/>
<circle cx="269.03" cy="322.02" r="2.2" fill="#1d5db0"/>
<circle cx="269.71" cy="320.26" r="2.2" fill="#1d5db0"/>
<circle cx="270.45" cy="318.41" r="2.2" fill="#1d5db0"/>
<circle cx="271.17" cy="316.71" r="2.2" fill="#1d5db0"/>
<circle cx="272.1" cy="314.82" r="2.2" fill="#1d5db0"/>
<circle cx="273.11" cy="313.1" r="2.2" fill="#1d5db0"/>
<circle cx="274.17" cy="311.5" r="2.2" fill="#1d5db0"/>
<circle cx="275.23" cy="309.95" r="2.2" fill="#1d5db0"/>
<circle cx="276.45" cy="308.34" r="2.2" fill="#1d5db0"/>
<circle cx="277.63" cy="306.77" r="2.2" fill="#1d5db0"/>
<circle cx="278.74" cy="305.1" r="2.2" fill="#1d5db0"/>
<circle cx="279.64" cy="303.48" r="2.2" fill="#1d5db0"/>
<circle cx="280.5" cy="301.8" r="2.2" fill="#1d5db0"/>
<circle cx="380.2" cy="250.2" r="2.5" fill="#1d5db0"/>
<circle cx="368.5" cy="249.6" r="2.5" fill="#1d5db0"/>
<circle cx="356.4" cy="250.8" r="2.5" fill="#1d5db0"/>
<circle cx="344.7" cy="253" r="2.5" fill="#1d5db0"/>
<circle cx="334" cy="257.2" r="2.5" fill="#1d5db0"/>
<circle cx="323.6" cy="261.4" r="2.5" fill="#1d5db0"/>
<circle cx="315" cy="266.2" r="2.5" fill="#1d5db0"/>
<circle cx="307.4" cy="271.2" r="2.5" fill="#1d5db0"/>
<circle cx="301" cy="277.4" r="2.5" fill="#1d5db0"/>
<circle cx="295.6" cy="282.4" r="2.5" fill="#1d5db0"/>
<circle cx="290.6" cy="288" r="2.5" fill="#1d5db0"/>
<circle cx="286.5" cy="292.8" r="2.5" fill="#1d5db0"/>
<circle cx="283.1" cy="297.3" r="2.5" fill="#1d5db0"/>
<circle cx="280.5" cy="301.8" r="2.5" fill="#1d5db0"/>
<circle cx="268.3" cy="323.9" r="2.4" fill="#b884c0"/>
<circle cx="268.9" cy="322.04" r="2.4" fill="#b884c0"/>
<circle cx="269.46" cy="320.29" r="2.4" fill="#b884c0"/>
<circle cx="270.08" cy="318.44" r="2.4" fill="#b884c0"/>
<circle cx="270.71" cy="316.73" r="2.4" fill="#b884c0"/>
<circle cx="271.43" cy="315.01" r="2.4" fill="#b884c0"/>
<circle cx="272.3" cy="313.15" r="2.4" fill="#b884c0"/>
<circle cx="273.21" cy="311.55" r="2.4" fill="#b884c0"/>
<circle cx="274.5" cy="310.05" r="2.4" fill="#b884c0"/>
<circle cx="276.29" cy="309.3" r="2.4" fill="#b884c0"/>
<circle cx="277.98" cy="308.48" r="2.4" fill="#b884c0"/>
<circle cx="279.5" cy="307.32" r="2.4" fill="#b884c0"/>
<circle cx="280.91" cy="305.97" r="2.4" fill="#b884c0"/>
<circle cx="284.99" cy="301.24" r="2.4" fill="#b884c0"/>
<circle cx="289.5" cy="296.7" r="2.4" fill="#b884c0"/>
<circle cx="294.27" cy="292.66" r="2.4" fill="#b884c0"/>
<circle cx="299.73" cy="289.36" r="2.4" fill="#b884c0"/>
<circle cx="305.59" cy="286.6" r="2.4" fill="#b884c0"/>
<circle cx="311.44" cy="284.29" r="2.4" fill="#b884c0"/>
<circle cx="317.5" cy="282.8" r="2.4" fill="#b884c0"/>
<circle cx="323.89" cy="281.87" r="2.4" fill="#b884c0"/>
<circle cx="330.26" cy="282" r="2.4" fill="#b884c0"/>
<circle cx="336.55" cy="282.96" r="2.4" fill="#b884c0"/>
<circle cx="342.88" cy="284.53" r="2.4" fill="#b884c0"/>
<circle cx="348.99" cy="286.59" r="2.4" fill="#b884c0"/>
<circle cx="354.99" cy="289.01" r="2.4" fill="#b884c0"/>
<circle cx="360.77" cy="291.92" r="2.4" fill="#b884c0"/>
<circle cx="363.4" cy="293.6" r="2.4" fill="#b884c0"/>
<circle cx="268.3" cy="323.9" r="2.3" fill="#3ea6e0"/>
<circle cx="269.05" cy="322.17" r="2.3" fill="#3ea6e0"/>
<circle cx="269.89" cy="320.2" r="2.3" fill="#3ea6e0"/>
<circle cx="270.84" cy="318.07" r="2.3" fill="#3ea6e0"/>
<circle cx="271.81" cy="316.13" r="2.3" fill="#3ea6e0"/>
<circle cx="272.93" cy="314.43" r="2.3" fill="#3ea6e0"/>
<circle cx="274.24" cy="313.14" r="2.3" fill="#3ea6e0"/>
<circle cx="275.81" cy="312.15" r="2.3" fill="#3ea6e0"/>
<circle cx="277.51" cy="311.23" r="2.3" fill="#3ea6e0"/>
<circle cx="279.46" cy="310.48" r="2.3" fill="#3ea6e0"/>
<circle cx="281.37" cy="309.82" r="2.3" fill="#3ea6e0"/>
<circle cx="283.05" cy="308.93" r="2.3" fill="#3ea6e0"/>
<circle cx="286.9" cy="305.98" r="2.3" fill="#3ea6e0"/>
<circle cx="291.04" cy="303.75" r="2.3" fill="#3ea6e0"/>
<circle cx="295.39" cy="301.99" r="2.3" fill="#3ea6e0"/>
<circle cx="300.1" cy="300.9" r="2.3" fill="#3ea6e0"/>
<circle cx="304.94" cy="300.28" r="2.3" fill="#3ea6e0"/>
<circle cx="309.74" cy="300.1" r="2.3" fill="#3ea6e0"/>
<circle cx="314.66" cy="300.34" r="2.3" fill="#3ea6e0"/>
<circle cx="319.44" cy="301.31" r="2.3" fill="#3ea6e0"/>
<circle cx="323.89" cy="303.25" r="2.3" fill="#3ea6e0"/>
<circle cx="328.07" cy="306.01" r="2.3" fill="#3ea6e0"/>
<circle cx="331.47" cy="309.34" r="2.3" fill="#3ea6e0"/>
<circle cx="334.23" cy="313.18" r="2.3" fill="#3ea6e0"/>
<circle cx="268.3" cy="323.9" r="2.1" fill="#e61f26"/>
<circle cx="269.07" cy="322.26" r="2.1" fill="#e61f26"/>
<circle cx="269.78" cy="320.73" r="2.1" fill="#e61f26"/>
<circle cx="270.6" cy="319.11" r="2.1" fill="#e61f26"/>
<circle cx="271.52" cy="317.62" r="2.1" fill="#e61f26"/>
<circle cx="272.77" cy="316.17" r="2.1" fill="#e61f26"/>
<circle cx="274.19" cy="314.92" r="2.1" fill="#e61f26"/>
<circle cx="275.73" cy="313.81" r="2.1" fill="#e61f26"/>
<circle cx="277.35" cy="312.85" r="2.1" fill="#e61f26"/>
<circle cx="279" cy="312.03" r="2.1" fill="#e61f26"/>
<circle cx="280.76" cy="311.36" r="2.1" fill="#e61f26"/>
<circle cx="282.55" cy="310.84" r="2.1" fill="#e61f26"/>
<circle cx="284.32" cy="310.43" r="2.1" fill="#e61f26"/>
<circle cx="285.99" cy="310.14" r="2.1" fill="#e61f26"/>
<circle cx="287.59" cy="309.97" r="2.1" fill="#e61f26"/>
<circle cx="289.48" cy="309.92" r="2.1" fill="#e61f26"/>
<circle cx="291.4" cy="310" r="2.1" fill="#e61f26"/>
<circle cx="293.05" cy="310.16" r="2.1" fill="#e61f26"/>
<circle cx="294.72" cy="310.41" r="2.1" fill="#e61f26"/>
<circle cx="296.39" cy="310.75" r="2.1" fill="#e61f26"/>
<circle cx="298" cy="311.2" r="2.1" fill="#e61f26"/>
<circle cx="299.58" cy="311.76" r="2.1" fill="#e61f26"/>
<circle cx="301.13" cy="312.42" r="2.1" fill="#e61f26"/>
<circle cx="302.62" cy="313.18" r="2.1" fill="#e61f26"/>
<circle cx="304" cy="314" r="2.1" fill="#e61f26"/>
<circle cx="305.51" cy="315.07" r="2.1" fill="#e61f26"/>
<circle cx="306.89" cy="316.25" r="2.1" fill="#e61f26"/>
<circle cx="308.12" cy="317.54" r="2.1" fill="#e61f26"/>
<circle cx="309.23" cy="319.06" r="2.1" fill="#e61f26"/>
<circle cx="310.08" cy="320.59" r="2.1" fill="#e61f26"/>
<circle cx="310.79" cy="322.06" r="2.1" fill="#e61f26"/>
<circle cx="311.4" cy="323.3" r="2.1" fill="#e61f26"/>
<circle cx="268.3" cy="323.9" r="0.5" fill="#fbd5d5"/>
<circle cx="269.78" cy="320.73" r="0.5" fill="#fbd5d5"/>
<circle cx="271.52" cy="317.62" r="0.5" fill="#fbd5d5"/>
<circle cx="273.89" cy="315.16" r="0.5" fill="#fbd5d5"/>
<circle cx="276.7" cy="313.21" r="0.5" fill="#fbd5d5"/>
<circle cx="279.69" cy="311.74" r="0.5" fill="#fbd5d5"/>
<circle cx="282.91" cy="310.75" r="0.5" fill="#fbd5d5"/>
<circle cx="286.32" cy="310.09" r="0.5" fill="#fbd5d5"/>
<circle cx="289.8" cy="309.93" r="0.5" fill="#fbd5d5"/>
<circle cx="293.05" cy="310.16" r="0.5" fill="#fbd5d5"/>
<circle cx="296.39" cy="310.75" r="0.5" fill="#fbd5d5"/>
<circle cx="299.58" cy="311.76" r="0.5" fill="#fbd5d5"/>
<circle cx="302.62" cy="313.18" r="0.5" fill="#fbd5d5"/>
<circle cx="305.51" cy="315.07" r="0.5" fill="#fbd5d5"/>
<circle cx="307.93" cy="317.32" r="0.5" fill="#fbd5d5"/>
<circle cx="309.75" cy="319.97" r="0.5" fill="#fbd5d5"/>
<circle cx="311.23" cy="322.98" r="0.5" fill="#fbd5d5"/>
<polyline points="268.3,323.9 268.4,323.81 268.51,323.69 268.63,323.57 268.77,323.43 268.91,323.27 269.07,323.11 269.23,322.93 269.4,322.75 269.59,322.56 269.78,322.37 269.97,322.17 270.18,321.97 270.39,321.77 270.6,321.58 270.83,321.38 271.05,321.19 271.28,321 271.52,320.83 271.76,320.66 272,320.5 272.25,320.35 272.5,320.19 272.75,320.04 273.01,319.89 273.28,319.74 273.55,319.59 273.83,319.44 274.11,319.29 274.4,319.15 274.7,319.01 275,318.87 275.31,318.73 275.62,318.6 275.94,318.47 276.27,318.35 276.6,318.23 276.94,318.11 277.29,318 277.64,317.9 278,317.8 278.37,317.71 278.76,317.61 279.15,317.52 279.56,317.43 279.98,317.34 280.41,317.26 280.85,317.18 281.29,317.11 281.74,317.03 282.19,316.97 282.64,316.91 283.09,316.85 283.54,316.81 283.98,316.77 284.42,316.73 284.86,316.71 285.28,316.69 285.7,316.69 286.11,316.69 286.5,316.7 286.89,316.72 287.27,316.75 287.66,316.79 288.04,316.84 288.41,316.9 288.79,316.96 289.16,317.04 289.53,317.12 289.89,317.2 290.25,317.29 290.6,317.39 290.95,317.5 291.29,317.61 291.63,317.72 291.96,317.84 292.28,317.97 292.6,318.09 292.91,318.23 293.21,318.36 293.5,318.5 293.78,318.64 294.06,318.8 294.34,318.96 294.6,319.13 294.86,319.3 295.12,319.48 295.37,319.67 295.61,319.86 295.85,320.06 296.07,320.26 296.3,320.46 296.51,320.66 296.72,320.87 296.93,321.07 297.12,321.28 297.31,321.49 297.5,321.69 297.67,321.9 297.84,322.1 298,322.3 298.15,322.5 298.3,322.72 298.43,322.94 298.56,323.17 298.68,323.4 298.8,323.64 298.9,323.88 299,324.12 299.09,324.35 299.18,324.59 299.26,324.82 299.34,325.04 299.41,325.26 299.48,325.46 299.54,325.66 299.6,325.84 299.65,326 299.71,326.15 299.75,326.29 299.8,326.4" fill="none" stroke="#c9cd3a" stroke-width="5" stroke-linejoin="round" stroke-linecap="round"/>
<polyline points="260.5,326.4 260.6,326.37 260.71,326.33 260.84,326.28 260.98,326.22 261.14,326.15 261.31,326.08 261.48,326.01 261.67,325.93 261.86,325.86 262.06,325.78 262.26,325.71 262.46,325.64 262.67,325.58 262.87,325.53 263.07,325.49 263.27,325.46 263.46,325.45 263.65,325.45 263.83,325.46 264,325.5 264.16,325.56 264.33,325.64 264.49,325.75 264.65,325.88 264.81,326.03 264.97,326.18 265.12,326.35 265.28,326.53 265.43,326.71 265.59,326.9 265.74,327.08 265.89,327.26 266.05,327.44 266.2,327.6 266.35,327.75 266.5,327.88 266.65,328 266.8,328.09 266.95,328.16 267.1,328.2 267.25,328.22 267.39,328.22 267.54,328.2 267.68,328.17 267.81,328.13 267.95,328.08 268.09,328.01 268.22,327.93 268.36,327.85 268.49,327.75 268.63,327.65 268.77,327.54 268.91,327.42 269.06,327.3 269.2,327.17 269.35,327.04 269.51,326.91 269.67,326.77 269.83,326.64 270,326.5 270.17,326.36 270.35,326.21 270.53,326.04 270.71,325.87 270.9,325.69 271.09,325.5 271.28,325.31 271.47,325.11 271.67,324.91 271.87,324.71 272.07,324.5 272.28,324.3 272.48,324.09 272.69,323.89 272.9,323.69 273.12,323.5 273.34,323.31 273.55,323.13 273.78,322.96 274,322.8 274.23,322.64 274.46,322.49 274.69,322.33 274.93,322.17 275.17,322.02 275.41,321.87 275.66,321.72 275.9,321.58 276.15,321.43 276.41,321.29 276.66,321.16 276.92,321.03 277.17,320.9 277.43,320.78 277.69,320.67 277.95,320.56 278.21,320.46 278.48,320.37 278.74,320.28 279,320.2 279.26,320.13 279.53,320.06 279.8,320 280.08,319.94 280.35,319.88 280.63,319.84 280.91,319.79 281.19,319.76 281.47,319.73 281.75,319.7 282.03,319.68 282.31,319.67 282.59,319.66 282.87,319.66 283.15,319.67 283.42,319.68 283.7,319.7 283.97,319.72 284.24,319.76 284.5,319.8 284.76,319.85 285.03,319.91 285.3,319.98 285.56,320.06 285.83,320.15 286.1,320.24 286.37,320.35 286.63,320.45 286.9,320.57 287.16,320.69 287.41,320.81 287.67,320.94 287.92,321.07 288.16,321.2 288.4,321.33 288.64,321.47 288.86,321.6 289.08,321.74 289.3,321.87 289.5,322 289.7,322.13 289.89,322.27 290.07,322.4 290.26,322.55 290.43,322.69 290.6,322.83 290.77,322.98 290.93,323.13 291.08,323.28 291.23,323.44 291.38,323.59 291.52,323.75 291.66,323.9 291.79,324.06 291.92,324.22 292.04,324.37 292.16,324.53 292.28,324.69 292.39,324.84 292.5,325 292.6,325.16 292.7,325.33 292.8,325.5 292.89,325.68 292.98,325.86 293.06,326.05 293.13,326.23 293.2,326.42 293.27,326.6 293.34,326.79 293.4,326.97 293.46,327.14 293.51,327.31 293.56,327.47 293.61,327.62 293.65,327.76 293.69,327.89 293.73,328.01 293.77,328.11 293.8,328.2" fill="none" stroke="#6ec3d4" stroke-width="5.2" stroke-linejoin="round" stroke-linecap="round"/>
</g>
<line x1="251.5" y1="216.4" x2="348.9" y2="216.4" stroke="#231815" stroke-width="1.1"/>
<rect x="255.4" y="214.6" width="9.3" height="3.6" fill="#fff" stroke="#231815" stroke-width="1"/>
<rect x="280" y="214.6" width="9.8" height="3.6" fill="#fff" stroke="#231815" stroke-width="1"/>
<rect x="308.2" y="214.6" width="9.5" height="3.6" fill="#fff" stroke="#231815" stroke-width="1"/>
<rect x="331.5" y="214.6" width="9.8" height="3.6" fill="#fff" stroke="#231815" stroke-width="1"/>
<polyline points="273.2,216.4 273.2,241.1 324.7,241.1 324.7,216.4" fill="none" stroke="#231815" stroke-width="1.1" stroke-linejoin="round"/>
<polyline points="300.1,216.4 300.1,229.4 324.7,229.4" fill="none" stroke="#231815" stroke-width="1.1" stroke-linejoin="round"/>
<rect x="280.2" y="239.5" width="4.2" height="3.2" fill="#fff"/>
<path d="M280.2,239.6 l2.6,1.5 l-2.6,1.5 z" fill="#231815"/>
<line x1="283.5" y1="239.3" x2="283.5" y2="242.9" stroke="#231815" stroke-width="0.9"/>
<rect x="307.1" y="227.8" width="4.2" height="3.2" fill="#fff"/>
<path d="M307.1,227.9 l2.6,1.5 l-2.6,1.5 z" fill="#231815"/>
<line x1="310.4" y1="227.6" x2="310.4" y2="231.2" stroke="#231815" stroke-width="0.9"/>
<circle cx="273.2" cy="216.4" r="0.9" fill="#231815"/>
<circle cx="300.1" cy="216.4" r="0.9" fill="#231815"/>
<text x="275.4" y="238.6" font-size="7.6" text-anchor="start" fill="#231815" stroke="#231815" stroke-width="0.25">CPE3</text>
<text x="303" y="227" font-size="7.6" text-anchor="start" fill="#231815" stroke="#231815" stroke-width="0.25">CPE4</text>
<text x="256.9" y="209.8" font-size="11.3" text-anchor="start" fill="#231815">R<tspan dy="3.28" font-size="6.78">2</tspan><tspan dy="-3.28"></tspan></text>
<text x="281.2" y="209.8" font-size="11.3" text-anchor="start" fill="#231815">R<tspan dy="3.28" font-size="6.78">3</tspan><tspan dy="-3.28"></tspan></text>
<text x="309.7" y="209.8" font-size="11.3" text-anchor="start" fill="#231815">R<tspan dy="3.28" font-size="6.78">4</tspan><tspan dy="-3.28"></tspan></text>
<text x="333" y="209.8" font-size="11.3" text-anchor="start" fill="#231815">R<tspan dy="3.28" font-size="6.78">1</tspan><tspan dy="-3.28"></tspan></text>
<rect x="251.5" y="194.5" width="170.4" height="140" fill="none" stroke="#231815" stroke-width="1.4"/>
<line x1="251.5" y1="329.7" x2="248.7" y2="329.7" stroke="#231815" stroke-width="1.25"/>
<text x="247.3" y="334" font-size="10.5" font-weight="bold" text-anchor="end" fill="#231815">0</text>
<line x1="251.5" y1="298.43" x2="248.7" y2="298.43" stroke="#231815" stroke-width="1.25"/>
<text x="247.3" y="302.73" font-size="10.5" font-weight="bold" text-anchor="end" fill="#231815">30</text>
<line x1="251.5" y1="267.15" x2="248.7" y2="267.15" stroke="#231815" stroke-width="1.25"/>
<text x="247.3" y="271.45" font-size="10.5" font-weight="bold" text-anchor="end" fill="#231815">60</text>
<line x1="251.5" y1="235.88" x2="248.7" y2="235.88" stroke="#231815" stroke-width="1.25"/>
<text x="247.3" y="240.18" font-size="10.5" font-weight="bold" text-anchor="end" fill="#231815">90</text>
<line x1="251.5" y1="204.6" x2="248.7" y2="204.6" stroke="#231815" stroke-width="1.25"/>
<text x="247.3" y="208.9" font-size="10.5" font-weight="bold" text-anchor="end" fill="#231815">120</text>
<line x1="251.5" y1="314.06" x2="249.9" y2="314.06" stroke="#231815" stroke-width="1.25"/>
<line x1="251.5" y1="282.79" x2="249.9" y2="282.79" stroke="#231815" stroke-width="1.25"/>
<line x1="251.5" y1="251.51" x2="249.9" y2="251.51" stroke="#231815" stroke-width="1.25"/>
<line x1="251.5" y1="220.24" x2="249.9" y2="220.24" stroke="#231815" stroke-width="1.25"/>
<line x1="256.3" y1="334.5" x2="256.3" y2="337.3" stroke="#231815" stroke-width="1.25"/>
<text x="256.3" y="347" font-size="10" font-weight="bold" text-anchor="middle" fill="#231815">0</text>
<line x1="285.49" y1="334.5" x2="285.49" y2="337.3" stroke="#231815" stroke-width="1.25"/>
<text x="285.49" y="347" font-size="10" font-weight="bold" text-anchor="middle" fill="#231815">30</text>
<line x1="314.68" y1="334.5" x2="314.68" y2="337.3" stroke="#231815" stroke-width="1.25"/>
<text x="314.68" y="347" font-size="10" font-weight="bold" text-anchor="middle" fill="#231815">60</text>
<line x1="343.87" y1="334.5" x2="343.87" y2="337.3" stroke="#231815" stroke-width="1.25"/>
<text x="343.87" y="347" font-size="10" font-weight="bold" text-anchor="middle" fill="#231815">90</text>
<line x1="373.06" y1="334.5" x2="373.06" y2="337.3" stroke="#231815" stroke-width="1.25"/>
<text x="373.06" y="347" font-size="10" font-weight="bold" text-anchor="middle" fill="#231815">120</text>
<line x1="402.25" y1="334.5" x2="402.25" y2="337.3" stroke="#231815" stroke-width="1.25"/>
<text x="402.25" y="347" font-size="10" font-weight="bold" text-anchor="middle" fill="#231815">150</text>
<line x1="270.89" y1="334.5" x2="270.89" y2="336.1" stroke="#231815" stroke-width="1.25"/>
<line x1="300.09" y1="334.5" x2="300.09" y2="336.1" stroke="#231815" stroke-width="1.25"/>
<line x1="329.27" y1="334.5" x2="329.27" y2="336.1" stroke="#231815" stroke-width="1.25"/>
<line x1="358.47" y1="334.5" x2="358.47" y2="336.1" stroke="#231815" stroke-width="1.25"/>
<line x1="387.65" y1="334.5" x2="387.65" y2="336.1" stroke="#231815" stroke-width="1.25"/>
<line x1="416.85" y1="334.5" x2="416.85" y2="336.1" stroke="#231815" stroke-width="1.25"/>
<text x="383.9" y="256.3" font-size="11.5" text-anchor="start" fill="#231815">η (mV)</text>
<circle cx="387.4" cy="263.8" r="2.2" fill="#231815"/>
<text x="395.4" y="267.5" font-size="11.5" text-anchor="start" fill="#231815">0</text>
<circle cx="387.4" cy="274.35" r="2.2" fill="#1d5db0"/>
<text x="393.6" y="278.05" font-size="11.5" text-anchor="start" fill="#231815">-5</text>
<circle cx="387.4" cy="284.9" r="2.2" fill="#b884c0"/>
<text x="391" y="288.6" font-size="11.5" text-anchor="start" fill="#231815">-15</text>
<circle cx="387.4" cy="295.45" r="2.2" fill="#3ea6e0"/>
<text x="391" y="299.15" font-size="11.5" text-anchor="start" fill="#231815">-25</text>
<circle cx="387.4" cy="306" r="2.2" fill="#e61f26"/>
<circle cx="386.92" cy="305.45" r="0.48" fill="#fff0f0"/>
<text x="391" y="309.7" font-size="11.5" text-anchor="start" fill="#231815">-35</text>
<circle cx="387.4" cy="316.55" r="2.2" fill="#c9cd3a"/>
<text x="391" y="320.25" font-size="11.5" text-anchor="start" fill="#231815">-45</text>
<circle cx="387.4" cy="327.1" r="2.2" fill="#6ec3d4"/>
<text x="391" y="330.8" font-size="11.5" text-anchor="start" fill="#231815">-55</text>
<text x="337.8" y="360.4" font-size="13" text-anchor="middle" fill="#231815">Z' (Ω)</text>
<text x="229.9" y="266.4" font-size="13" text-anchor="middle" fill="#231815" transform="rotate(-90 229.9 266.4)">-Z″ (Ω)</text>
<text x="210.5" y="203.5" font-size="23.5" text-anchor="start" fill="#000">e</text>
</g>
<g>
<defs><radialGradient id="sph" cx="0.45" cy="0.42" r="0.6"><stop offset="0" stop-color="#e6e6e6"/><stop offset="0.7" stop-color="#d6d6d6"/><stop offset="0.9" stop-color="#e2e2e2"/><stop offset="1" stop-color="#a8a8a8"/></radialGradient><radialGradient id="sphd" cx="0.45" cy="0.42" r="0.6"><stop offset="0" stop-color="#c0c0c0"/><stop offset="0.85" stop-color="#acacac"/><stop offset="1" stop-color="#808080"/></radialGradient><clipPath id="semclip"><rect x="270" y="410" width="104" height="83.30000000000001"/></clipPath></defs>
<g clip-path="url(#semclip)">
<rect x="270" y="410" width="104" height="83.30000000000001" fill="#7e7e7e"/>
<circle cx="323.5" cy="447.5" r="9" fill="url(#sphd)"/>
<circle cx="309.3" cy="452" r="8" fill="url(#sphd)"/>
<circle cx="282.7" cy="447.5" r="6" fill="url(#sphd)"/>
<circle cx="366" cy="458" r="8" fill="url(#sphd)"/>
<circle cx="330" cy="412" r="8" fill="url(#sphd)"/>
<circle cx="350" cy="490" r="7" fill="url(#sphd)"/>
<circle cx="296" cy="455" r="7" fill="url(#sphd)"/>
<circle cx="275" cy="440" r="6" fill="url(#sphd)"/>
<circle cx="340" cy="452" r="7" fill="url(#sphd)"/>
<circle cx="355" cy="430" r="6" fill="url(#sphd)"/>
<circle cx="290" cy="452" r="6" fill="url(#sphd)"/>
<circle cx="372" cy="440" r="6" fill="url(#sphd)"/>
<circle cx="312" cy="470" r="6" fill="url(#sphd)"/>
<circle cx="330" cy="490" r="6" fill="url(#sphd)"/>
<circle cx="285" cy="492" r="6" fill="url(#sphd)"/>
<circle cx="270" cy="468" r="5" fill="url(#sphd)"/>
<circle cx="278.3" cy="421.8" r="6.4" fill="url(#sph)"/>
<circle cx="291.6" cy="420.1" r="11.2" fill="url(#sph)"/>
<circle cx="318.2" cy="424.5" r="11" fill="url(#sph)"/>
<circle cx="289.8" cy="437.8" r="10" fill="url(#sph)"/>
<circle cx="304.9" cy="440" r="10.4" fill="url(#sph)"/>
<circle cx="350" cy="412" r="9.7" fill="url(#sph)"/>
<circle cx="368.7" cy="411" r="6.2" fill="url(#sph)"/>
<circle cx="364.2" cy="425.4" r="9.7" fill="url(#sph)"/>
<circle cx="360.7" cy="444.9" r="9.7" fill="url(#sph)"/>
<circle cx="272.1" cy="453.7" r="8" fill="url(#sph)"/>
<circle cx="300.4" cy="461.7" r="8" fill="url(#sph)"/>
<circle cx="321.7" cy="462.6" r="8.9" fill="url(#sph)"/>
<circle cx="288" cy="469.7" r="8" fill="url(#sph)"/>
<circle cx="341.2" cy="471.5" r="11.5" fill="url(#sph)"/>
<circle cx="302.2" cy="483" r="9.7" fill="url(#sph)"/>
<circle cx="318.2" cy="481.2" r="8.9" fill="url(#sph)"/>
<circle cx="371.3" cy="475" r="5.5" fill="url(#sph)"/>
<circle cx="278.3" cy="485.6" r="7" fill="url(#sph)"/>
<circle cx="273" cy="475" r="5.3" fill="url(#sph)"/>
<circle cx="371" cy="458" r="6" fill="url(#sph)"/>
<path d="M334,428 q4,-6 9,-3 q6,-3 8,3 q5,2 2,8 q2,6 -4,7 q-3,5 -9,1 q-6,1 -6,-6 q-4,-5 0,-10z" fill="#d4d4d4"/>
<path d="M360,452 q4,-3 8,0 q4,3 1,7 q-3,4 -7,1 q-4,-3 -2,-8z" fill="#cfcfcf"/>
</g>
<rect x="343.5" y="485.6" width="21.1" height="4.1" fill="#231815"/>
<text x="342.6" y="481.6" font-size="11" font-weight="bold" text-anchor="start" fill="#231815">2 μm</text>
<text x="270.3" y="503.3" font-size="10.4" text-anchor="start" fill="#231815">Used Al<tspan dy="3.02" font-size="6.24">P</tspan><tspan dy="-3.02">-MoO<tspan dy="3.02" font-size="6.24">2</tspan><tspan dy="-3.02">@Mo<tspan dy="3.02" font-size="6.24">2</tspan><tspan dy="-3.02">C</tspan></tspan></tspan></text>
<clipPath id="cp5"><rect x="35.1" y="370.1" width="387.6" height="139.3"/></clipPath><g clip-path="url(#cp5)">
<polyline points="35.5,404.02 38,404.25 40.5,404.14 43,404.32 45.5,404.36 48,403.98 50.5,403.96 53,404.55 55.5,404.17 58,404.16 60.5,404.71 63,404.36 65.5,404.64 68,404.4 70.5,404.53 73,404.21 75.5,404.56 78,404.74 80.5,404.52 83,404.69 85.5,404.66 88,404.25 90.5,404.75 93,404.65 95.5,404.46 98,404.29 100.5,404.89 103,404.63 105.5,404.82 108,404.95 110.5,404.85 113,405.01 115.5,404.66 118,404.96 120.5,404.73 123,405.09 125.5,405.07 128,404.54 130.5,404.58 133,404.66 135.5,405.2 138,404.84 140.5,404.99 143,404.78 145.5,404.94 148,404.87 150.5,404.87 153,405.05 155.5,405.06 158,405.3 160.5,405.17 163,405.36 165.5,405.32 168,405.43 170.5,405.23 173,404.89 175.5,405.39 178,405.48 180.5,405.46 183,405.24 185.5,405.36 188,405.02 190.5,405.47 193,405.31 195.5,405.12 198,404.98 200.5,405.55 203,405.67 205.5,405.05 208,405.57 210.5,405.31 213,405.15 215.5,405.26 218,405.61 220.5,405.7 223,405.14 225.5,405.56 228,405.17 230.5,405.66 233,405.41 235.5,405.81 238,405.9 240.5,405.58 243,405.94 245.5,405.48 248,405.33 250.5,405.71 253,405.33 255.5,405.46 258,405.63 260.5,405.79 263,405.49 265.5,405.42 268,406.02 270.5,405.65 273,406.11 275.5,406.09 278,405.74 280.5,405.82 283,405.87 285.5,405.98 288,405.96 290.5,405.95 293,406.01 295.5,406.25 298,405.97 300.5,405.93 303,406.15 305.5,405.83 308,405.89 310.5,406.38 313,406.08 315.5,406.11 318,405.75 320.5,406.05 323,406.19 325.5,405.81 328,406.24 330.5,406.27 333,405.89 335.5,406.3 338,406.21 340.5,406.37 343,406.16 345.5,406.42 348,406.46 350.5,405.98 353,406.02 355.5,406.47 358,406.69 360.5,406.21 363,406.37 365.5,406.48 368,406.3 370.5,406.35 373,406.33 375.5,406.39 378,406.56 380.5,406.38 383,406.45 385.5,406.74 388,406.23 390.5,406.63 393,406.76 395.5,406.48 398,406.44 400.5,406.86 403,406.48 405.5,406.46 408,406.65 410.5,406.85 413,406.45 415.5,406.63 418,406.65 420.5,407.02 423,406.76" fill="none" stroke="#e61f26" stroke-width="3.7" stroke-linejoin="round"/>
<polyline points="35.6,421 35.62,421.08 35.65,421.18 35.69,421.29 35.72,421.42 35.76,421.55 35.8,421.7 35.85,421.85 35.9,422.01 35.94,422.18 35.99,422.35 36.04,422.52 36.1,422.7 36.15,422.87 36.2,423.05 36.25,423.22 36.31,423.39 36.36,423.55 36.41,423.71 36.45,423.86 36.5,424 36.54,424.13 36.58,424.27 36.62,424.39 36.66,424.52 36.7,424.65 36.73,424.77 36.77,424.89 36.8,425.01 36.84,425.13 36.88,425.25 36.91,425.37 36.95,425.48 37,425.6 37.04,425.71 37.09,425.83 37.14,425.94 37.2,426.06 37.26,426.17 37.33,426.29 37.4,426.4 37.48,426.52 37.56,426.63 37.65,426.75 37.74,426.87 37.84,426.98 37.94,427.1 38.04,427.22 38.14,427.33 38.25,427.45 38.36,427.56 38.47,427.68 38.59,427.79 38.7,427.9 38.82,428.01 38.93,428.11 39.05,428.21 39.16,428.32 39.28,428.41 39.39,428.51 39.5,428.6 39.61,428.69 39.72,428.78 39.84,428.86 39.95,428.95 40.06,429.03 40.18,429.11 40.29,429.19 40.41,429.27 40.53,429.34 40.64,429.41 40.76,429.48 40.88,429.55 40.99,429.62 41.11,429.68 41.23,429.74 41.34,429.8 41.46,429.85 41.57,429.9 41.69,429.95 41.8,430 41.91,430.04 42.02,430.08 42.14,430.12 42.25,430.16 42.36,430.19 42.47,430.22 42.58,430.25 42.69,430.28 42.8,430.3 42.91,430.32 43.02,430.34 43.13,430.35 43.24,430.37 43.35,430.38 43.46,430.39 43.57,430.39 43.68,430.4 43.78,430.4 43.89,430.4 44,430.4 44.11,430.39 44.21,430.38 44.32,430.36 44.43,430.33 44.54,430.3 44.64,430.27 44.75,430.23 44.86,430.19 44.96,430.15 45.07,430.11 45.17,430.07 45.28,430.04 45.38,430 45.49,429.97 45.59,429.94 45.69,429.92 45.8,429.9 45.9,429.89 46,429.89 46.1,429.9 46.2,429.92 46.3,429.94 46.39,429.96 46.48,430 46.58,430.04 46.67,430.08 46.76,430.12 46.85,430.17 46.94,430.23 47.03,430.28 47.12,430.34 47.21,430.4 47.3,430.46 47.39,430.52 47.49,430.59 47.58,430.65 47.68,430.71 47.79,430.78 47.89,430.84 48,430.9 48.11,430.96 48.22,431.03 48.33,431.09 48.45,431.16 48.56,431.23 48.67,431.3 48.79,431.38 48.91,431.45 49.03,431.53 49.15,431.6 49.27,431.67 49.4,431.75 49.53,431.82 49.66,431.9 49.79,431.97 49.93,432.04 50.07,432.11 50.21,432.17 50.35,432.24 50.5,432.3 50.65,432.36 50.8,432.42 50.95,432.47 51.11,432.52 51.26,432.58 51.42,432.63 51.58,432.68 51.74,432.72 51.91,432.77 52.07,432.82 52.25,432.87 52.42,432.91 52.6,432.96 52.79,433.01 52.98,433.05 53.17,433.1 53.37,433.15 53.57,433.2 53.78,433.25 54,433.3 54.22,433.35 54.44,433.4 54.65,433.46 54.87,433.51 55.08,433.56 55.3,433.61 55.53,433.66 55.76,433.71 55.99,433.77 56.23,433.82 56.48,433.87 56.74,433.93 57.01,433.98 57.29,434.04 57.59,434.09 57.9,434.15 58.22,434.21 58.56,434.27 58.92,434.34 59.3,434.4 59.69,434.47 60.1,434.53 60.52,434.6 60.96,434.68 61.4,434.75 61.86,434.82 62.33,434.9 62.82,434.98 63.31,435.05 63.82,435.13 64.34,435.21 64.87,435.29 65.41,435.37 65.96,435.44 66.53,435.52 67.1,435.6 67.68,435.68 68.28,435.75 68.88,435.83 69.5,435.9 70.13,435.97 70.78,436.05 71.45,436.12 72.14,436.2 72.84,436.27 73.56,436.35 74.28,436.42 75.02,436.5 75.77,436.57 76.52,436.64 77.28,436.72 78.05,436.79 78.81,436.86 79.58,436.93 80.35,436.99 81.11,437.06 81.87,437.12 82.62,437.18 83.36,437.24 84.1,437.3 84.83,437.35 85.56,437.41 86.29,437.46 87.02,437.5 87.75,437.55 88.48,437.6 89.21,437.64 89.94,437.68 90.67,437.72 91.4,437.76 92.13,437.8 92.86,437.84 93.59,437.87 94.32,437.91 95.05,437.94 95.78,437.98 96.51,438.01 97.24,438.04 97.97,438.07 98.7,438.1 99.42,438.13 100.14,438.15 100.84,438.18 101.54,438.2 102.23,438.22 102.92,438.24 103.61,438.26 104.3,438.27 104.99,438.29 105.68,438.31 106.38,438.32 107.09,438.34 107.81,438.35 108.55,438.37 109.29,438.39 110.05,438.41 110.83,438.43 111.63,438.45 112.45,438.47 113.3,438.5 114.17,438.53 115.08,438.56 116,438.59 116.96,438.63 117.93,438.66 118.92,438.7 119.93,438.73 120.94,438.77 121.97,438.81 123,438.85 124.03,438.89 125.07,438.93 126.1,438.97 127.13,439 128.15,439.04 129.15,439.07 130.14,439.11 131.12,439.14 132.07,439.17 133,439.2 133.91,439.23 134.82,439.25 135.72,439.28 136.6,439.3 137.49,439.32 138.36,439.35 139.23,439.37 140.09,439.39 140.95,439.41 141.79,439.43 142.64,439.44 143.47,439.46 144.31,439.48 145.13,439.5 145.95,439.51 146.77,439.53 147.58,439.55 148.39,439.57 149.2,439.58 150,439.6 150.81,439.62 151.63,439.64 152.47,439.66 153.32,439.69 154.17,439.71 155.02,439.74 155.87,439.76 156.71,439.79 157.54,439.81 158.36,439.84 159.16,439.86 159.95,439.88 160.7,439.9 161.43,439.91 162.13,439.92 162.79,439.92 163.41,439.93 163.99,439.92 164.52,439.91 165,439.9 165.43,439.88 165.8,439.84 166.12,439.8 166.4,439.75 166.64,439.7 166.84,439.64 167.01,439.57 167.15,439.5 167.27,439.43 167.36,439.36 167.44,439.29 167.52,439.23 167.58,439.16 167.64,439.1 167.7,439.05 167.77,439 167.85,438.96 167.95,438.93 168.06,438.91 168.2,438.9 168.35,438.9 168.49,438.91 168.62,438.93 168.75,438.95 168.87,438.98 168.99,439.01 169.11,439.05 169.23,439.09 169.35,439.14 169.47,439.19 169.6,439.24 169.73,439.3 169.86,439.36 170,439.42 170.14,439.48 170.29,439.54 170.45,439.61 170.62,439.67 170.81,439.74 171,439.8 171.2,439.86 171.39,439.93 171.59,440.01 171.78,440.08 171.98,440.16 172.18,440.25 172.38,440.33 172.59,440.42 172.81,440.51 173.04,440.59 173.28,440.68 173.53,440.77 173.8,440.86 174.08,440.94 174.38,441.03 174.7,441.11 175.04,441.19 175.4,441.26 175.79,441.33 176.2,441.4 176.64,441.46 177.11,441.53 177.61,441.58 178.13,441.64 178.67,441.7 179.24,441.75 179.82,441.8 180.42,441.85 181.03,441.9 181.66,441.95 182.29,442 182.93,442.04 183.57,442.09 184.22,442.13 184.86,442.18 185.5,442.22 186.14,442.27 186.77,442.31 187.39,442.36 188,442.4 188.6,442.44 189.21,442.49 189.82,442.53 190.44,442.58 191.05,442.62 191.67,442.66 192.29,442.71 192.91,442.75 193.53,442.79 194.16,442.83 194.78,442.87 195.4,442.91 196.02,442.95 196.64,442.99 197.26,443.03 197.87,443.06 198.48,443.1 199.09,443.13 199.7,443.17 200.3,443.2 200.9,443.23 201.51,443.26 202.12,443.29 202.73,443.32 203.34,443.35 203.95,443.38 204.57,443.41 205.18,443.43 205.78,443.46 206.39,443.48 206.99,443.51 207.58,443.53 208.17,443.55 208.74,443.57 209.31,443.6 209.87,443.62 210.42,443.64 210.96,443.66 211.49,443.68 212,443.7 212.51,443.72 213.02,443.74 213.53,443.76 214.04,443.78 214.55,443.8 215.05,443.81 215.55,443.83 216.04,443.85 216.52,443.87 216.98,443.88 217.43,443.9 217.87,443.91 218.28,443.93 218.68,443.94 219.05,443.95 219.4,443.96 219.72,443.97 220.01,443.98 220.27,443.99 220.5,444" fill="none" stroke="#1d5db0" stroke-width="4.3" stroke-linejoin="round" stroke-linecap="round"/>
<path d="M35.3,418.5 L37.5,420 L40,425 L44,428 L44,432.5 L39,431.5 L35.3,428 Z" fill="#1d5db0"/>
<circle cx="35.7" cy="416.4" r="1.6" fill="#1d5db0"/>
<circle cx="221" cy="444" r="1.5" fill="#fff" stroke="#1d5db0" stroke-width="1"/>
</g>
<rect x="35.1" y="370.1" width="387.6" height="139.3" fill="none" stroke="#231815" stroke-width="1.4"/>
<line x1="35.1" y1="370" x2="32.3" y2="370" stroke="#231815" stroke-width="1.25"/>
<text x="30.5" y="373.6" font-size="10.5" font-weight="bold" text-anchor="end" fill="#231815">0.1</text>
<line x1="35.1" y1="393.2" x2="32.3" y2="393.2" stroke="#231815" stroke-width="1.25"/>
<text x="30.5" y="396.8" font-size="10.5" font-weight="bold" text-anchor="end" fill="#231815">0.0</text>
<line x1="35.1" y1="416.4" x2="32.3" y2="416.4" stroke="#231815" stroke-width="1.25"/>
<text x="30.5" y="420" font-size="10.5" font-weight="bold" text-anchor="end" fill="#231815">-0.1</text>
<line x1="35.1" y1="439.6" x2="32.3" y2="439.6" stroke="#231815" stroke-width="1.25"/>
<text x="30.5" y="443.2" font-size="10.5" font-weight="bold" text-anchor="end" fill="#231815">-0.2</text>
<line x1="35.1" y1="462.8" x2="32.3" y2="462.8" stroke="#231815" stroke-width="1.25"/>
<text x="30.5" y="466.4" font-size="10.5" font-weight="bold" text-anchor="end" fill="#231815">-0.3</text>
<line x1="35.1" y1="486" x2="32.3" y2="486" stroke="#231815" stroke-width="1.25"/>
<text x="30.5" y="489.6" font-size="10.5" font-weight="bold" text-anchor="end" fill="#231815">-0.4</text>
<line x1="35.1" y1="509.2" x2="32.3" y2="509.2" stroke="#231815" stroke-width="1.25"/>
<text x="30.5" y="512.8" font-size="10.5" font-weight="bold" text-anchor="end" fill="#231815">-0.5</text>
<line x1="35.1" y1="381.6" x2="33.5" y2="381.6" stroke="#231815" stroke-width="1.25"/>
<line x1="35.1" y1="404.8" x2="33.5" y2="404.8" stroke="#231815" stroke-width="1.25"/>
<line x1="35.1" y1="428" x2="33.5" y2="428" stroke="#231815" stroke-width="1.25"/>
<line x1="35.1" y1="451.2" x2="33.5" y2="451.2" stroke="#231815" stroke-width="1.25"/>
<line x1="35.1" y1="474.4" x2="33.5" y2="474.4" stroke="#231815" stroke-width="1.25"/>
<line x1="35.1" y1="497.6" x2="33.5" y2="497.6" stroke="#231815" stroke-width="1.25"/>
<line x1="35.3" y1="509.4" x2="35.3" y2="512.2" stroke="#231815" stroke-width="1.25"/>
<text x="35.3" y="521.8" font-size="10" font-weight="bold" text-anchor="middle" fill="#231815">0</text>
<line x1="109.22" y1="509.4" x2="109.22" y2="512.2" stroke="#231815" stroke-width="1.25"/>
<text x="109.22" y="521.8" font-size="10" font-weight="bold" text-anchor="middle" fill="#231815">40</text>
<line x1="183.14" y1="509.4" x2="183.14" y2="512.2" stroke="#231815" stroke-width="1.25"/>
<text x="183.14" y="521.8" font-size="10" font-weight="bold" text-anchor="middle" fill="#231815">80</text>
<line x1="257.06" y1="509.4" x2="257.06" y2="512.2" stroke="#231815" stroke-width="1.25"/>
<text x="257.06" y="521.8" font-size="10" font-weight="bold" text-anchor="middle" fill="#231815">120</text>
<line x1="330.98" y1="509.4" x2="330.98" y2="512.2" stroke="#231815" stroke-width="1.25"/>
<text x="330.98" y="521.8" font-size="10" font-weight="bold" text-anchor="middle" fill="#231815">160</text>
<line x1="404.9" y1="509.4" x2="404.9" y2="512.2" stroke="#231815" stroke-width="1.25"/>
<text x="404.9" y="521.8" font-size="10" font-weight="bold" text-anchor="middle" fill="#231815">200</text>
<line x1="72.26" y1="509.4" x2="72.26" y2="511" stroke="#231815" stroke-width="1.25"/>
<line x1="146.18" y1="509.4" x2="146.18" y2="511" stroke="#231815" stroke-width="1.25"/>
<line x1="220.1" y1="509.4" x2="220.1" y2="511" stroke="#231815" stroke-width="1.25"/>
<line x1="294.02" y1="509.4" x2="294.02" y2="511" stroke="#231815" stroke-width="1.25"/>
<line x1="367.94" y1="509.4" x2="367.94" y2="511" stroke="#231815" stroke-width="1.25"/>
<text x="58.4" y="396.9" font-size="13" text-anchor="start" fill="#231815">Al<tspan dy="3.77" font-size="7.8">P</tspan><tspan dy="-3.77">-MoO<tspan dy="3.77" font-size="7.8">2</tspan><tspan dy="-3.77">@Mo<tspan dy="3.77" font-size="7.8">2</tspan><tspan dy="-3.77">C</tspan></tspan></tspan></text>
<text x="58.4" y="460.6" font-size="13" text-anchor="start" fill="#231815">MoO<tspan dy="3.77" font-size="7.8">2</tspan><tspan dy="-3.77">@Mo<tspan dy="3.77" font-size="7.8">2</tspan><tspan dy="-3.77">C</tspan></tspan></text>
<text x="263" y="389.3" font-size="12.8" text-anchor="start" fill="#231815">@10 mA/cm<tspan dy="-4.86" font-size="7.94">2</tspan><tspan dy="4.86"></tspan></text>
<text x="226" y="533.2" font-size="13" text-anchor="middle" fill="#231815">Time (h)</text>
<text x="10.1" y="434.5" font-size="13" text-anchor="middle" fill="#231815" transform="rotate(-90 10.1 434.5)">Overpotential (V)</text>
<text x="4.5" y="360.4" font-size="23.5" text-anchor="start" fill="#000">f</text>
</g>
<defs>
<filter id="sh" x="0" y="0" width="1" height="1" color-interpolation-filters="sRGB"><feTurbulence type="fractalNoise" baseFrequency="0.55" numOctaves="3" seed="21"/><feColorMatrix type="matrix" values="2 0 0 0 -0.44  2 0 0 0 -0.44  2 0 0 0 -0.44  0 0 0 0 1"/><feColorMatrix type="matrix" values="0.3294 0 0 0 0.5490  0 0.3294 0 0 0.5647  0 0 0.3216 0 0.5882  0 0 0 1 0"/></filter>
<filter id="sm" x="0" y="0" width="1" height="1" color-interpolation-filters="sRGB"><feTurbulence type="fractalNoise" baseFrequency="0.55" numOctaves="3" seed="22"/><feColorMatrix type="matrix" values="1.8 0 0 0 -0.3  1.8 0 0 0 -0.3  1.8 0 0 0 -0.3  0 0 0 0 1"/><feColorMatrix type="matrix" values="0.1098 0 0 0 0.0863  0 0.1882 0 0 0.1725  0 0 0.3137 0 0.4784  0 0 0 1 0"/></filter>
<filter id="sa" x="0" y="0" width="1" height="1" color-interpolation-filters="sRGB"><feTurbulence type="fractalNoise" baseFrequency="0.55" numOctaves="3" seed="23"/><feColorMatrix type="matrix" values="2.2 0 0 0 -0.7  2.2 0 0 0 -0.7  2.2 0 0 0 -0.7  0 0 0 0 1"/><feColorMatrix type="matrix" values="0.6275 0 0 0 0.0471  0 0.4275 0 0 0.0275  0 0 0.1098 0 0.0000  0 0 0 1 0"/></filter>
<filter id="sc" x="0" y="0" width="1" height="1" color-interpolation-filters="sRGB"><feTurbulence type="fractalNoise" baseFrequency="0.55" numOctaves="3" seed="24"/><feColorMatrix type="matrix" values="2 0 0 0 -0.5  2 0 0 0 -0.5  2 0 0 0 -0.5  0 0 0 0 1"/><feColorMatrix type="matrix" values="0.4980 0 0 0 0.1373  0 0.5255 0 0 0.1569  0 0 0.1529 0 0.0196  0 0 0 1 0"/></filter>
<filter id="so" x="0" y="0" width="1" height="1" color-interpolation-filters="sRGB"><feTurbulence type="fractalNoise" baseFrequency="0.55" numOctaves="3" seed="25"/><feColorMatrix type="matrix" values="2.2 0 0 0 -0.65  2.2 0 0 0 -0.65  2.2 0 0 0 -0.65  0 0 0 0 1"/><feColorMatrix type="matrix" values="0.6078 0 0 0 0.1176  0 0.0863 0 0 0.0000  0 0 0.1490 0 0.0314  0 0 0 1 0"/></filter>
<filter id="sxb" x="0" y="0" width="1" height="1" color-interpolation-filters="sRGB"><feTurbulence type="fractalNoise" baseFrequency="0.55" numOctaves="3" seed="29"/><feColorMatrix type="matrix" values="2 0 0 0 -0.48  2 0 0 0 -0.48  2 0 0 0 -0.48  0 0 0 0 1"/><feColorMatrix type="matrix" values="0.5333 0 0 0 0.1569  0 0.5176 0 0 0.1569  0 0 0.1490 0 0.0157  0 0 0 1 0"/></filter>
<filter id="sbgo" x="0" y="0" width="1" height="1" color-interpolation-filters="sRGB"><feTurbulence type="fractalNoise" baseFrequency="0.55" numOctaves="3" seed="26"/><feColorMatrix type="matrix" values="3 0 0 0 -1.85  3 0 0 0 -1.85  3 0 0 0 -1.85  0 0 0 0 1"/><feColorMatrix type="matrix" values="0.67 0 0 0 0  0 0.42 0 0 0  0 0 0.09 0 0  0 0 0 1 0"/></filter>
<filter id="sbgr" x="0" y="0" width="1" height="1" color-interpolation-filters="sRGB"><feTurbulence type="fractalNoise" baseFrequency="0.55" numOctaves="3" seed="27"/><feColorMatrix type="matrix" values="3 0 0 0 -1.8  3 0 0 0 -1.8  3 0 0 0 -1.8  0 0 0 0 1"/><feColorMatrix type="matrix" values="0.55 0 0 0 0  0 0.05 0 0 0  0 0 0.11 0 0  0 0 0 1 0"/></filter>
<filter id="sx" x="0" y="0" width="1" height="1" color-interpolation-filters="sRGB"><feTurbulence type="fractalNoise" baseFrequency="0.55" numOctaves="3" seed="28"/><feColorMatrix type="matrix" values="-0.55 0.1 0.5 0 0.865  -0.25 0.6 0.5 0 0.2  0.9 -0.5 0.5 0 0.2  0 0 0 0 1"/></filter>
<clipPath id="gc0"><rect x="438.8" y="210" width="121.9" height="98.2"/></clipPath>
<clipPath id="gc1"><rect x="563" y="210" width="122" height="98.2"/></clipPath>
<clipPath id="gc2"><rect x="438.8" y="311" width="121.9" height="98.4"/></clipPath>
<clipPath id="gc3"><rect x="563" y="311" width="122" height="98.4"/></clipPath>
<clipPath id="gc4"><rect x="438.8" y="411.8" width="121.9" height="98"/></clipPath>
<clipPath id="gc5"><rect x="563" y="411.8" width="122" height="98"/></clipPath>
<clipPath id="h_c"><circle cx="499.3" cy="256" r="44.5"/><path d="M520,215 q3,-4 7,-2 q3,3 -1,5 q-3,2 -6,-3z"/><path d="M524,290 q6,-6 10,-4 q5,3 3,8 q4,3 0,6 q-5,3 -10,0 q-6,-2 -3,-10z"/></clipPath>
<clipPath id="h_l"><circle cx="397" cy="256" r="53"/></clipPath>
<radialGradient id="softg" cx="0.5" cy="0.5" r="0.5"><stop offset="0" stop-color="#fff"/><stop offset="0.9" stop-color="#fff"/><stop offset="1" stop-color="#000"/></radialGradient>
<radialGradient id="cdark" cx="0.5" cy="0.5" r="0.5"><stop offset="0" stop-color="#000" stop-opacity="0.3"/><stop offset="0.6" stop-color="#000" stop-opacity="0.2"/><stop offset="1" stop-color="#000" stop-opacity="0"/></radialGradient>
<radialGradient id="hvig" cx="0.5" cy="0.5" r="0.5"><stop offset="0.7" stop-color="#000" stop-opacity="0"/><stop offset="1" stop-color="#000" stop-opacity="0.28"/></radialGradient>
</defs>
<g clip-path="url(#gc0)">
<rect x="438.8" y="210" width="121.90000000000003" height="98.19999999999999" fill="#060606"/>
<circle cx="595" cy="195" r="45" fill="#a4a4a4"/>
<rect x="438.8" y="303.3" width="121.90000000000003" height="5" fill="#242424"/>
<line x1="438.8" y1="303.2" x2="560.7" y2="302.6" stroke="#8a8a8a" stroke-width="0.9"/>
<rect x="438.8" y="210" width="121.9" height="98.2" fill="#000" filter="url(#sh)" clip-path="url(#h_l)" opacity="0.85"/>
<rect x="438.8" y="210" width="121.9" height="98.2" fill="#000" filter="url(#sh)" clip-path="url(#h_c)" opacity="1"/>
<circle cx="499.3" cy="256" r="44.5" fill="url(#hvig)"/>
<path d="M543,247 q8,2 12,8 M544,258 q7,2 16,1 M541,276 q6,4 8,14" fill="none" stroke="#6a6a6a" stroke-width="0.9"/>
<rect x="450.2" y="298.6" width="20.8" height="6.2" fill="#fff"/>
<text x="447.4" y="294.2" font-size="10.6" font-weight="bold" text-anchor="start" fill="#fff">200 nm</text>
</g>
<mask id="m_m" maskUnits="userSpaceOnUse" x="430" y="200" width="260" height="320"><circle cx="622.7" cy="256.3" r="46.3" fill="url(#softg)"/><circle cx="521" cy="256" r="53.3" fill="url(#softg)"/></mask>
<g clip-path="url(#gc1)">
<rect x="563" y="210" width="122" height="98.19999999999999" fill="#010104"/>
<path d="M673.5,210 L685,210 L685,222.5 Z" fill="#121e56"/>
<rect x="563" y="210" width="122" height="98.2" fill="#000" filter="url(#sm)" mask="url(#m_m)" opacity="1"/>
<line x1="563" y1="303.6" x2="685" y2="303.2" stroke="#1a2a80" stroke-width="1" stroke-dasharray="2,2.5" opacity="0.7"/>
<text x="651.5" y="226.6" font-size="17" font-style="italic" text-anchor="start" fill="#fff">Mo</text>
</g>
<clipPath id="a_c"><circle cx="498" cy="357" r="46.5"/><circle cx="397" cy="352" r="55"/><circle cx="585" cy="300" r="48"/></clipPath>
<mask id="a_m" maskUnits="userSpaceOnUse" x="430" y="200" width="260" height="320"><circle cx="498" cy="357" r="48.3" fill="url(#softg)"/><circle cx="397" cy="352" r="56.8" fill="url(#softg)"/><circle cx="585" cy="300" r="49.8" fill="url(#softg)"/></mask>
<clipPath id="a_all"><rect x="438.8" y="311" width="121.90000000000003" height="98.39999999999998"/></clipPath>
<g clip-path="url(#gc2)">
<rect x="438.8" y="311" width="121.90000000000003" height="98.39999999999998" fill="#000"/>
<rect x="438.8" y="311" width="121.9" height="98.4" fill="#000" filter="url(#sbgo)" clip-path="url(#a_all)" opacity="1"/>
<rect x="438.8" y="311" width="121.90000000000003" height="98.39999999999998" fill="#000" clip-path="url(#a_c)"/>
<rect x="438.8" y="311" width="121.9" height="98.4" fill="#000" filter="url(#sa)" mask="url(#a_m)" opacity="1"/>
<text x="538.2" y="325.7" font-size="17" font-style="italic" text-anchor="start" fill="#fff">Al</text>
</g>
<clipPath id="c_c"><rect x="563" y="311" width="122" height="46"/><circle cx="622" cy="355" r="46"/><circle cx="521" cy="352" r="54"/><circle cx="730" cy="310" r="58"/></clipPath>
<g clip-path="url(#gc3)">
<rect x="563" y="311" width="122" height="98.39999999999998" fill="#000"/>
<rect x="563" y="311" width="122" height="98.4" fill="#000" filter="url(#sc)" clip-path="url(#c_c)" opacity="1"/>
<circle cx="622" cy="360" r="40" fill="url(#cdark)"/>
<line x1="563" y1="404.8" x2="685" y2="404.4" stroke="#5a5c14" stroke-width="1.2" stroke-dasharray="2,1.5" opacity="0.8"/>
<text x="661.8" y="324.9" font-size="16.5" font-style="italic" text-anchor="start" fill="#fff">C</text>
</g>
<clipPath id="o_c"><circle cx="498.5" cy="457" r="45.5"/><circle cx="397" cy="455" r="53.5"/></clipPath>
<mask id="o_m" maskUnits="userSpaceOnUse" x="430" y="200" width="260" height="320"><circle cx="498.5" cy="457" r="47.3" fill="url(#softg)"/><circle cx="397" cy="455" r="55.3" fill="url(#softg)"/></mask>
<clipPath id="o_all"><rect x="438.8" y="411.8" width="121.90000000000003" height="98.0"/></clipPath>
<g clip-path="url(#gc4)">
<rect x="438.8" y="411.8" width="121.90000000000003" height="98.0" fill="#000"/>
<rect x="438.8" y="411.8" width="121.9" height="98" fill="#000" filter="url(#sbgr)" clip-path="url(#o_all)" opacity="1"/>
<rect x="438.8" y="411.8" width="121.90000000000003" height="98.0" fill="#000" clip-path="url(#o_c)"/>
<rect x="438.8" y="411.8" width="121.9" height="98" fill="#000" filter="url(#so)" mask="url(#o_m)" opacity="1"/>
<text x="543.9" y="429" font-size="16.5" font-style="italic" text-anchor="start" fill="#fff">O</text>
</g>
<mask id="x_m" maskUnits="userSpaceOnUse" x="430" y="200" width="260" height="320"><circle cx="622.6" cy="458" r="46.8" fill="url(#softg)"/><circle cx="521" cy="455" r="55.8" fill="url(#softg)"/></mask>
<clipPath id="x_bg"><rect x="563" y="411.8" width="122" height="45"/><circle cx="730" cy="410" r="58"/></clipPath>
<g clip-path="url(#gc5)">
<rect x="563" y="411.8" width="122" height="98.0" fill="#000"/>
<rect x="563" y="411.8" width="122" height="98" fill="#000" filter="url(#sxb)" clip-path="url(#x_bg)" opacity="1"/>
<circle cx="655" cy="445" r="16" fill="#c88a20" opacity="0.5"/>
<rect x="563" y="411.8" width="122" height="98" fill="#000" filter="url(#sx)" mask="url(#x_m)" opacity="1"/>
<circle cx="622.6" cy="458" r="45" fill="url(#hvig)"/>
<line x1="563" y1="505.5" x2="685" y2="505" stroke="#7a5010" stroke-width="1.4" stroke-dasharray="2,1.5" opacity="0.8"/>
<text x="655.5" y="424.8" font-size="17" font-style="italic" text-anchor="start" fill="#fff">Mix</text>
</g>
<text x="428.7" y="198.5" font-size="23.5" text-anchor="start" fill="#000">g</text>
</svg>
</body></html>
